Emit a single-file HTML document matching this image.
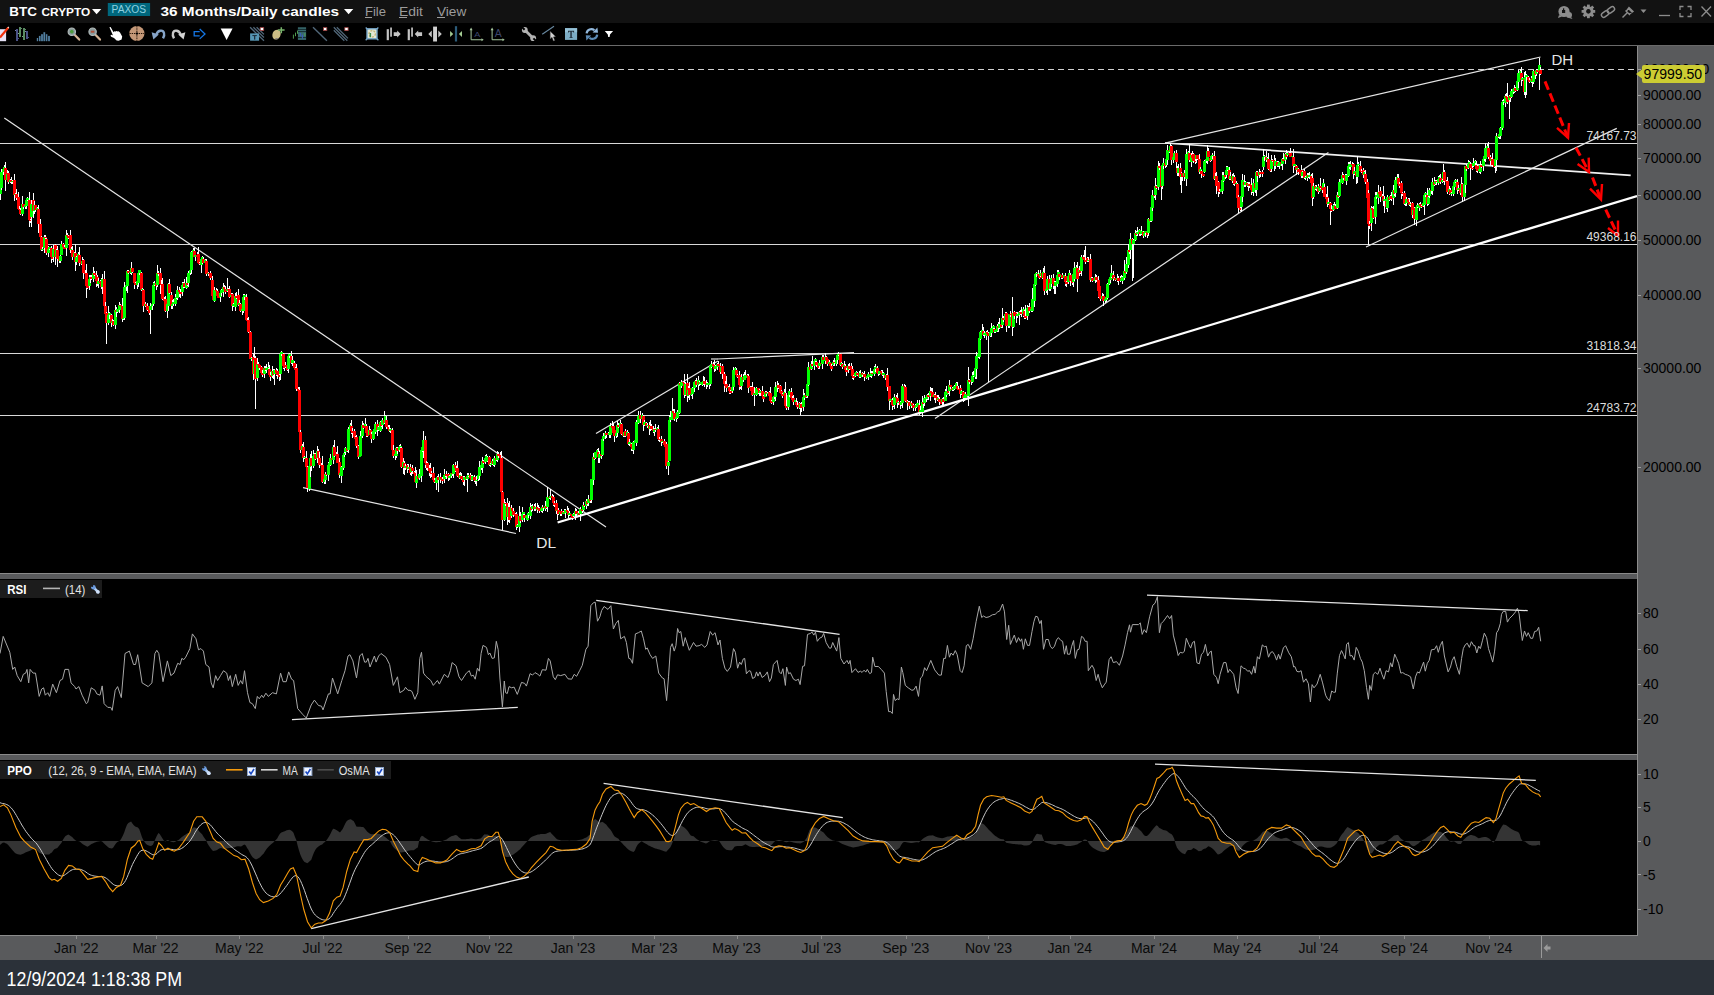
<!DOCTYPE html>
<html><head><meta charset="utf-8"><title>BTC CRYPTO</title>
<style>
html,body{margin:0;padding:0;background:#000;}
body{width:1714px;height:995px;position:relative;overflow:hidden;font-family:"Liberation Sans",sans-serif;}
.abs{position:absolute;}
#title{left:0;top:0;width:1714px;height:23px;background:#121212;}
#tool{left:0;top:23px;width:1714px;height:22px;background:#000;}
#tline{left:0;top:45px;width:1714px;height:1px;background:#6a6a6a;}
#raxis{left:1637px;top:46px;width:77px;height:914px;background:#595a5c;}
#rline{left:1637px;top:46px;width:1px;height:889px;background:#8c8c8c;}
#taxis{left:0;top:935px;width:1714px;height:25px;background:#595a5c;}
#taxl{left:0;top:935px;width:1638px;height:1px;background:#8c8c8c;}
#status{left:0;top:960px;width:1714px;height:35px;background:#2b3139;color:#fff;font-size:18px;}
.sep{left:0;width:1637px;height:6px;background:#595a5c;border-top:1px solid #8a8a8a;box-sizing:border-box;}
.pl{position:absolute;left:1643px;font-size:14px;color:#000;line-height:14px;white-space:nowrap;}
.tk{position:absolute;left:1638px;width:3px;height:1px;background:#a0a0a0;}
.tl{position:absolute;top:941px;font-size:14px;color:#0a0a0a;line-height:14px;white-space:nowrap;transform:translateX(-50%);}
.tt{position:absolute;top:936px;width:1px;height:3px;background:#8c8c8c;}
.ttl{position:absolute;white-space:nowrap;}
.w{stroke:#fff;stroke-width:1}.g{stroke:#0f0;stroke-width:3}.r{stroke:#f00;stroke-width:3}
</style></head><body>
<div class="abs" id="title"></div>
<div class="abs" id="tool"></div>
<div class="abs" id="tline"></div>
<div class="abs" id="raxis"></div>
<div class="abs" id="taxis"></div>
<div class="abs" id="status"><svg class="abs" style="left:0;top:0" width="300" height="35"><text x="6.6" y="26" font-family="Liberation Sans, sans-serif" font-size="20" fill="#fff" textLength="175.5" lengthAdjust="spacingAndGlyphs">12/9/2024 1:18:38 PM</text></svg></div>
<div class="abs sep" style="top:573px"></div>
<div class="abs sep" style="top:754px"></div>
<svg width="1714" height="995" viewBox="0 0 1714 995" style="position:absolute;left:0;top:0">
<defs><clipPath id="c1"><rect x="0" y="46" width="1637" height="527"/></clipPath><clipPath id="c2"><rect x="0" y="579" width="1637" height="174"/></clipPath><clipPath id="c3"><rect x="0" y="760" width="1637" height="175"/></clipPath></defs>
<g clip-path="url(#c1)">
<g stroke="#d8d8d8" stroke-width="1" shape-rendering="crispEdges">
<line x1="0" y1="143.5" x2="1637" y2="143.5"/>
<line x1="0" y1="244.5" x2="1637" y2="244.5"/>
<line x1="0" y1="353.5" x2="1637" y2="353.5"/>
<line x1="0" y1="415.5" x2="1637" y2="415.5"/>
</g>
<line x1="0" y1="69.5" x2="1637" y2="69.5" stroke="#cfcfcf" stroke-width="1" stroke-dasharray="6 4" stroke-dashoffset="1.7" shape-rendering="crispEdges"/>
<g stroke="#e4e4e4" stroke-width="1.2" fill="none">
<line x1="4.3" y1="117.9" x2="606" y2="527"/>
<line x1="303" y1="487.6" x2="516" y2="533.5"/>
<line x1="596" y1="433.6" x2="718" y2="361"/>
<line x1="711" y1="359" x2="717.5" y2="359"/>
<line x1="717" y1="359" x2="854" y2="352.6"/>
<line x1="935" y1="418.5" x2="1328.4" y2="152.6"/>
<line x1="1165" y1="143.2" x2="1540.5" y2="57"/>
<line x1="1366" y1="247" x2="1616.8" y2="128.4"/>
</g>
<line x1="1165" y1="143" x2="1630.7" y2="175.3" stroke="#f0f0f0" stroke-width="1.7"/>
<line x1="557.6" y1="522.5" x2="1637" y2="196" stroke="#ffffff" stroke-width="2.3"/>
<g shape-rendering="crispEdges" fill="none"><path class="w" d="M0.5 187V200"/><path class="g" d="M0.5 188V194"/><path class="w" d="M1.5 169V190"/><path class="g" d="M1.5 172V188"/><path class="w" d="M3.5 167V175"/><path class="g" d="M3.5 169V172"/><path class="w" d="M4.5 165V170"/><path class="g" d="M4.5 167V169"/><path class="w" d="M5.5 162V191"/><path class="r" d="M5.5 168V180"/><path class="w" d="M7.5 170V181"/><path class="g" d="M7.5 174V180"/><path class="w" d="M8.5 171V184"/><path class="r" d="M8.5 173V182"/><path class="w" d="M10.5 179V183"/><path class="g" d="M10.5 180V182"/><path class="w" d="M11.5 177V184"/><path class="r" d="M11.5 180V182"/><path class="w" d="M12.5 180V184"/><path class="g" d="M12.5 181V182"/><path class="w" d="M14.5 174V201"/><path class="r" d="M14.5 180V195"/><path class="w" d="M15.5 193V198"/><path class="g" d="M15.5 194V195"/><path class="w" d="M16.5 189V200"/><path class="r" d="M16.5 194V198"/><path class="w" d="M18.5 192V210"/><path class="r" d="M18.5 197V209"/><path class="w" d="M19.5 206V211"/><path class="r" d="M19.5 209V210"/><path class="w" d="M20.5 208V215"/><path class="r" d="M20.5 210V214"/><path class="w" d="M22.5 196V216"/><path class="g" d="M22.5 204V214"/><path class="w" d="M23.5 204V209"/><path class="r" d="M23.5 204V207"/><path class="w" d="M25.5 203V209"/><path class="g" d="M25.5 205V207"/><path class="w" d="M26.5 198V209"/><path class="g" d="M26.5 200V206"/><path class="w" d="M27.5 197V201"/><path class="g" d="M27.5 198V200"/><path class="w" d="M29.5 192V227"/><path class="r" d="M29.5 200V220"/><path class="w" d="M30.5 219V223"/><path class="r" d="M30.5 220V221"/><path class="w" d="M31.5 200V227"/><path class="g" d="M31.5 204V217"/><path class="w" d="M33.5 193V218"/><path class="r" d="M33.5 200V211"/><path class="w" d="M34.5 201V214"/><path class="g" d="M34.5 205V211"/><path class="w" d="M35.5 205V212"/><path class="r" d="M35.5 205V210"/><path class="w" d="M37.5 207V213"/><path class="g" d="M37.5 208V210"/><path class="w" d="M38.5 205V233"/><path class="r" d="M38.5 209V224"/><path class="w" d="M40.5 219V239"/><path class="r" d="M40.5 224V237"/><path class="w" d="M41.5 236V251"/><path class="r" d="M41.5 237V250"/><path class="w" d="M42.5 247V251"/><path class="g" d="M42.5 249V250"/><path class="w" d="M44.5 235V253"/><path class="g" d="M44.5 237V248"/><path class="w" d="M45.5 235V239"/><path class="r" d="M45.5 237V238"/><path class="w" d="M46.5 238V255"/><path class="r" d="M46.5 239V253"/><path class="w" d="M48.5 246V257"/><path class="g" d="M48.5 249V253"/><path class="w" d="M49.5 247V250"/><path class="g" d="M49.5 247V249"/><path class="w" d="M51.5 246V263"/><path class="r" d="M51.5 248V257"/><path class="w" d="M52.5 256V260"/><path class="r" d="M52.5 257V259"/><path class="w" d="M53.5 245V262"/><path class="g" d="M53.5 249V257"/><path class="w" d="M55.5 244V265"/><path class="r" d="M55.5 245V257"/><path class="w" d="M56.5 249V258"/><path class="g" d="M56.5 250V257"/><path class="w" d="M57.5 246V267"/><path class="r" d="M57.5 250V259"/><path class="w" d="M59.5 257V263"/><path class="r" d="M59.5 259V261"/><path class="w" d="M60.5 253V263"/><path class="g" d="M60.5 256V261"/><path class="w" d="M61.5 241V255"/><path class="g" d="M61.5 244V255"/><path class="w" d="M63.5 243V247"/><path class="r" d="M63.5 244V247"/><path class="w" d="M64.5 245V249"/><path class="r" d="M64.5 247V249"/><path class="w" d="M66.5 230V256"/><path class="g" d="M66.5 235V248"/><path class="w" d="M67.5 233V238"/><path class="r" d="M67.5 235V236"/><path class="w" d="M68.5 235V239"/><path class="r" d="M68.5 236V238"/><path class="w" d="M70.5 230V253"/><path class="r" d="M70.5 235V250"/><path class="w" d="M71.5 247V252"/><path class="g" d="M71.5 249V250"/><path class="w" d="M72.5 246V260"/><path class="r" d="M72.5 250V257"/><path class="w" d="M74.5 252V257"/><path class="g" d="M74.5 253V257"/><path class="w" d="M75.5 244V271"/><path class="r" d="M75.5 253V262"/><path class="w" d="M76.5 256V265"/><path class="g" d="M76.5 257V262"/><path class="w" d="M78.5 252V258"/><path class="g" d="M78.5 254V257"/><path class="w" d="M79.5 247V266"/><path class="r" d="M79.5 255V263"/><path class="w" d="M81.5 261V265"/><path class="r" d="M81.5 263V264"/><path class="w" d="M82.5 257V271"/><path class="g" d="M82.5 261V264"/><path class="w" d="M83.5 259V279"/><path class="r" d="M83.5 260V273"/><path class="w" d="M85.5 270V277"/><path class="r" d="M85.5 273V274"/><path class="w" d="M86.5 264V298"/><path class="r" d="M86.5 273V286"/><path class="w" d="M87.5 286V289"/><path class="r" d="M87.5 286V288"/><path class="w" d="M89.5 275V290"/><path class="g" d="M89.5 279V286"/><path class="w" d="M90.5 275V283"/><path class="g" d="M90.5 277V279"/><path class="w" d="M91.5 275V280"/><path class="r" d="M91.5 277V279"/><path class="w" d="M93.5 267V282"/><path class="g" d="M93.5 273V279"/><path class="w" d="M94.5 271V276"/><path class="r" d="M94.5 273V275"/><path class="w" d="M96.5 271V287"/><path class="r" d="M96.5 275V281"/><path class="w" d="M97.5 275V286"/><path class="r" d="M97.5 277V284"/><path class="w" d="M98.5 278V288"/><path class="g" d="M98.5 281V284"/><path class="w" d="M100.5 280V285"/><path class="r" d="M100.5 281V283"/><path class="w" d="M101.5 278V289"/><path class="r" d="M101.5 281V287"/><path class="w" d="M102.5 274V294"/><path class="g" d="M102.5 279V287"/><path class="w" d="M104.5 271V307"/><path class="r" d="M104.5 279V306"/><path class="w" d="M105.5 302V315"/><path class="r" d="M105.5 306V314"/><path class="w" d="M106.5 312V344"/><path class="r" d="M106.5 313V323"/><path class="w" d="M108.5 306V325"/><path class="g" d="M108.5 315V323"/><path class="w" d="M109.5 312V319"/><path class="g" d="M109.5 313V315"/><path class="w" d="M111.5 314V327"/><path class="r" d="M111.5 315V323"/><path class="w" d="M112.5 319V325"/><path class="g" d="M112.5 321V323"/><path class="w" d="M113.5 320V326"/><path class="r" d="M113.5 321V325"/><path class="w" d="M115.5 305V329"/><path class="g" d="M115.5 310V325"/><path class="w" d="M116.5 307V317"/><path class="r" d="M116.5 310V312"/><path class="w" d="M117.5 309V313"/><path class="g" d="M117.5 309V312"/><path class="w" d="M119.5 302V313"/><path class="g" d="M119.5 305V310"/><path class="w" d="M120.5 304V306"/><path class="r" d="M120.5 305V306"/><path class="w" d="M122.5 298V322"/><path class="r" d="M122.5 306V319"/><path class="w" d="M123.5 318V320"/><path class="g" d="M123.5 318V319"/><path class="w" d="M124.5 282V320"/><path class="g" d="M124.5 287V318"/><path class="w" d="M126.5 283V291"/><path class="g" d="M126.5 285V287"/><path class="w" d="M127.5 270V293"/><path class="g" d="M127.5 271V286"/><path class="w" d="M128.5 270V274"/><path class="r" d="M128.5 271V273"/><path class="w" d="M130.5 272V274"/><path class="g" d="M130.5 272V273"/><path class="w" d="M131.5 262V275"/><path class="g" d="M131.5 268V273"/><path class="w" d="M132.5 268V273"/><path class="r" d="M132.5 268V272"/><path class="w" d="M134.5 273V289"/><path class="r" d="M134.5 273V283"/><path class="w" d="M135.5 282V285"/><path class="r" d="M135.5 283V285"/><path class="w" d="M137.5 280V289"/><path class="g" d="M137.5 281V285"/><path class="w" d="M138.5 272V287"/><path class="g" d="M138.5 273V283"/><path class="w" d="M139.5 270V275"/><path class="g" d="M139.5 270V273"/><path class="w" d="M141.5 272V291"/><path class="r" d="M141.5 273V290"/><path class="w" d="M142.5 288V294"/><path class="g" d="M142.5 289V290"/><path class="w" d="M143.5 289V312"/><path class="r" d="M143.5 290V306"/><path class="w" d="M145.5 302V307"/><path class="g" d="M145.5 304V306"/><path class="w" d="M146.5 304V310"/><path class="r" d="M146.5 304V306"/><path class="w" d="M147.5 303V311"/><path class="r" d="M147.5 306V310"/><path class="w" d="M149.5 308V315"/><path class="r" d="M149.5 310V313"/><path class="w" d="M150.5 303V334"/><path class="g" d="M150.5 306V310"/><path class="w" d="M152.5 303V310"/><path class="g" d="M152.5 304V306"/><path class="w" d="M153.5 282V306"/><path class="g" d="M153.5 285V304"/><path class="w" d="M154.5 281V286"/><path class="g" d="M154.5 283V285"/><path class="w" d="M156.5 282V290"/><path class="r" d="M156.5 283V286"/><path class="w" d="M157.5 265V287"/><path class="g" d="M157.5 273V285"/><path class="w" d="M158.5 271V276"/><path class="r" d="M158.5 273V274"/><path class="w" d="M160.5 268V294"/><path class="r" d="M160.5 273V284"/><path class="w" d="M161.5 280V288"/><path class="r" d="M161.5 284V285"/><path class="w" d="M162.5 278V300"/><path class="r" d="M162.5 284V299"/><path class="w" d="M164.5 297V304"/><path class="r" d="M164.5 299V301"/><path class="w" d="M165.5 296V312"/><path class="r" d="M165.5 299V311"/><path class="w" d="M167.5 300V318"/><path class="g" d="M167.5 304V311"/><path class="w" d="M168.5 283V311"/><path class="g" d="M168.5 284V306"/><path class="w" d="M169.5 279V294"/><path class="r" d="M169.5 284V293"/><path class="w" d="M171.5 292V309"/><path class="r" d="M171.5 295V306"/><path class="w" d="M172.5 300V309"/><path class="g" d="M172.5 304V306"/><path class="w" d="M173.5 299V306"/><path class="g" d="M173.5 302V304"/><path class="w" d="M175.5 294V306"/><path class="g" d="M175.5 298V304"/><path class="w" d="M176.5 296V299"/><path class="g" d="M176.5 297V298"/><path class="w" d="M177.5 286V300"/><path class="g" d="M177.5 290V298"/><path class="w" d="M179.5 287V297"/><path class="r" d="M179.5 290V292"/><path class="w" d="M180.5 289V298"/><path class="r" d="M180.5 292V294"/><path class="w" d="M182.5 282V296"/><path class="g" d="M182.5 285V292"/><path class="w" d="M183.5 282V288"/><path class="g" d="M183.5 283V285"/><path class="w" d="M184.5 279V288"/><path class="r" d="M184.5 283V287"/><path class="w" d="M186.5 277V289"/><path class="g" d="M186.5 283V288"/><path class="w" d="M187.5 280V286"/><path class="r" d="M187.5 283V285"/><path class="w" d="M188.5 271V287"/><path class="g" d="M188.5 273V283"/><path class="w" d="M190.5 269V275"/><path class="g" d="M190.5 270V273"/><path class="w" d="M191.5 251V274"/><path class="g" d="M191.5 252V270"/><path class="w" d="M193.5 248V255"/><path class="g" d="M193.5 250V252"/><path class="w" d="M194.5 248V257"/><path class="r" d="M194.5 251V257"/><path class="w" d="M195.5 255V261"/><path class="g" d="M195.5 255V257"/><path class="w" d="M197.5 252V259"/><path class="r" d="M197.5 255V257"/><path class="w" d="M198.5 247V264"/><path class="r" d="M198.5 254V263"/><path class="w" d="M199.5 262V265"/><path class="r" d="M199.5 263V264"/><path class="w" d="M201.5 258V273"/><path class="g" d="M201.5 259V265"/><path class="w" d="M202.5 256V264"/><path class="g" d="M202.5 257V259"/><path class="w" d="M203.5 257V263"/><path class="r" d="M203.5 259V263"/><path class="w" d="M205.5 259V265"/><path class="g" d="M205.5 260V263"/><path class="w" d="M206.5 259V276"/><path class="r" d="M206.5 261V274"/><path class="w" d="M208.5 272V276"/><path class="g" d="M208.5 273V274"/><path class="w" d="M209.5 273V275"/><path class="r" d="M209.5 273V274"/><path class="w" d="M210.5 271V280"/><path class="r" d="M210.5 273V278"/><path class="w" d="M212.5 276V299"/><path class="r" d="M212.5 280V296"/><path class="w" d="M213.5 291V301"/><path class="r" d="M213.5 296V300"/><path class="w" d="M214.5 287V302"/><path class="g" d="M214.5 290V301"/><path class="w" d="M216.5 288V291"/><path class="r" d="M216.5 290V291"/><path class="w" d="M217.5 289V297"/><path class="r" d="M217.5 291V296"/><path class="r" d="M218.5 296V298"/><path class="w" d="M220.5 292V302"/><path class="g" d="M220.5 293V297"/><path class="w" d="M221.5 289V296"/><path class="g" d="M221.5 290V293"/><path class="w" d="M223.5 283V297"/><path class="g" d="M223.5 287V292"/><path class="w" d="M224.5 285V292"/><path class="r" d="M224.5 287V289"/><path class="w" d="M225.5 286V294"/><path class="r" d="M225.5 289V292"/><path class="w" d="M227.5 278V292"/><path class="g" d="M227.5 289V291"/><path class="w" d="M228.5 288V291"/><path class="r" d="M228.5 289V290"/><path class="w" d="M229.5 286V298"/><path class="r" d="M229.5 289V297"/><path class="w" d="M231.5 293V301"/><path class="g" d="M231.5 295V297"/><path class="w" d="M232.5 293V311"/><path class="r" d="M232.5 294V306"/><path class="w" d="M233.5 303V307"/><path class="g" d="M233.5 304V306"/><path class="w" d="M235.5 293V311"/><path class="g" d="M235.5 296V307"/><path class="w" d="M236.5 292V299"/><path class="r" d="M236.5 296V298"/><path class="w" d="M238.5 289V306"/><path class="r" d="M238.5 295V305"/><path class="w" d="M239.5 300V308"/><path class="g" d="M239.5 303V305"/><path class="w" d="M240.5 303V312"/><path class="r" d="M240.5 304V311"/><path class="w" d="M242.5 307V315"/><path class="g" d="M242.5 309V311"/><path class="w" d="M243.5 294V313"/><path class="g" d="M243.5 297V311"/><path class="w" d="M244.5 294V300"/><path class="g" d="M244.5 295V297"/><path class="w" d="M246.5 294V321"/><path class="r" d="M246.5 297V320"/><path class="w" d="M247.5 318V324"/><path class="r" d="M247.5 320V321"/><path class="w" d="M248.5 317V333"/><path class="r" d="M248.5 320V332"/><path class="w" d="M250.5 331V359"/><path class="r" d="M250.5 332V359"/><path class="w" d="M251.5 357V361"/><path class="g" d="M251.5 358V359"/><path class="w" d="M253.5 353V380"/><path class="r" d="M253.5 357V374"/><path class="w" d="M254.5 347V378"/><path class="g" d="M254.5 360V374"/><path class="w" d="M255.5 356V409"/><path class="r" d="M255.5 358V379"/><path class="w" d="M257.5 358V381"/><path class="g" d="M257.5 364V378"/><path class="w" d="M258.5 362V367"/><path class="r" d="M258.5 364V365"/><path class="w" d="M259.5 365V370"/><path class="r" d="M259.5 365V368"/><path class="w" d="M261.5 366V374"/><path class="r" d="M261.5 367V373"/><path class="w" d="M262.5 370V377"/><path class="r" d="M262.5 373V375"/><path class="w" d="M264.5 366V378"/><path class="g" d="M264.5 368V374"/><path class="w" d="M265.5 366V371"/><path class="r" d="M265.5 368V370"/><path class="w" d="M266.5 364V373"/><path class="g" d="M266.5 368V370"/><path class="w" d="M268.5 362V369"/><path class="g" d="M268.5 367V368"/><path class="w" d="M269.5 365V376"/><path class="r" d="M269.5 369V375"/><path class="w" d="M270.5 372V381"/><path class="r" d="M270.5 375V377"/><path class="w" d="M272.5 366V378"/><path class="g" d="M272.5 371V376"/><path class="w" d="M273.5 369V379"/><path class="r" d="M273.5 371V375"/><path class="w" d="M274.5 369V385"/><path class="g" d="M274.5 370V374"/><path class="w" d="M276.5 368V376"/><path class="r" d="M276.5 370V373"/><path class="w" d="M277.5 369V379"/><path class="r" d="M277.5 371V375"/><path class="w" d="M279.5 369V381"/><path class="r" d="M279.5 375V377"/><path class="w" d="M280.5 353V380"/><path class="g" d="M280.5 354V374"/><path class="w" d="M281.5 351V356"/><path class="g" d="M281.5 352V354"/><path class="w" d="M283.5 353V369"/><path class="r" d="M283.5 354V366"/><path class="w" d="M284.5 365V371"/><path class="r" d="M284.5 366V368"/><path class="w" d="M285.5 362V368"/><path class="r" d="M285.5 365V367"/><path class="w" d="M287.5 363V371"/><path class="r" d="M287.5 367V370"/><path class="w" d="M288.5 355V373"/><path class="g" d="M288.5 356V369"/><path class="w" d="M289.5 353V358"/><path class="g" d="M289.5 354V356"/><path class="w" d="M291.5 351V364"/><path class="r" d="M291.5 356V363"/><path class="w" d="M292.5 356V366"/><path class="g" d="M292.5 360V363"/><path class="w" d="M294.5 361V370"/><path class="r" d="M294.5 363V368"/><path class="w" d="M295.5 367V371"/><path class="r" d="M295.5 368V370"/><path class="w" d="M296.5 364V391"/><path class="r" d="M296.5 368V389"/><path class="w" d="M298.5 387V392"/><path class="r" d="M298.5 389V391"/><path class="w" d="M299.5 387V437"/><path class="r" d="M299.5 390V432"/><path class="w" d="M300.5 430V453"/><path class="r" d="M300.5 432V450"/><path class="w" d="M302.5 444V451"/><path class="g" d="M302.5 446V450"/><path class="w" d="M303.5 442V462"/><path class="r" d="M303.5 447V458"/><path class="w" d="M304.5 456V459"/><path class="g" d="M304.5 457V458"/><path class="w" d="M306.5 451V469"/><path class="r" d="M306.5 458V467"/><path class="w" d="M307.5 466V492"/><path class="r" d="M307.5 467V488"/><path class="w" d="M309.5 460V491"/><path class="g" d="M309.5 466V489"/><path class="w" d="M310.5 454V477"/><path class="g" d="M310.5 458V467"/><path class="w" d="M311.5 451V471"/><path class="r" d="M311.5 458V466"/><path class="w" d="M313.5 450V468"/><path class="g" d="M313.5 456V466"/><path class="w" d="M314.5 453V458"/><path class="g" d="M314.5 454V456"/><path class="w" d="M315.5 453V460"/><path class="r" d="M315.5 454V459"/><path class="w" d="M317.5 446V463"/><path class="g" d="M317.5 451V458"/><path class="w" d="M318.5 449V459"/><path class="r" d="M318.5 451V458"/><path class="w" d="M319.5 452V468"/><path class="r" d="M319.5 458V465"/><path class="w" d="M321.5 463V467"/><path class="r" d="M321.5 465V466"/><path class="w" d="M322.5 456V483"/><path class="r" d="M322.5 465V482"/><path class="w" d="M324.5 478V484"/><path class="g" d="M324.5 479V482"/><path class="w" d="M325.5 472V484"/><path class="g" d="M325.5 474V480"/><path class="w" d="M326.5 474V476"/><path class="r" d="M326.5 474V475"/><path class="w" d="M328.5 462V481"/><path class="g" d="M328.5 465V475"/><path class="w" d="M329.5 461V465"/><path class="g" d="M329.5 463V465"/><path class="w" d="M330.5 454V466"/><path class="g" d="M330.5 458V465"/><path class="w" d="M332.5 455V460"/><path class="r" d="M332.5 458V460"/><path class="w" d="M333.5 445V464"/><path class="g" d="M333.5 447V460"/><path class="w" d="M334.5 440V457"/><path class="r" d="M334.5 447V456"/><path class="w" d="M336.5 452V457"/><path class="g" d="M336.5 455V456"/><path class="w" d="M337.5 446V463"/><path class="r" d="M337.5 454V463"/><path class="w" d="M339.5 458V478"/><path class="r" d="M339.5 462V475"/><path class="w" d="M340.5 473V476"/><path class="g" d="M340.5 473V475"/><path class="w" d="M341.5 466V483"/><path class="g" d="M341.5 467V476"/><path class="w" d="M343.5 453V470"/><path class="g" d="M343.5 455V468"/><path class="w" d="M344.5 452V457"/><path class="g" d="M344.5 453V455"/><path class="w" d="M345.5 447V455"/><path class="g" d="M345.5 448V452"/><path class="w" d="M347.5 446V452"/><path class="r" d="M347.5 448V451"/><path class="w" d="M348.5 427V453"/><path class="g" d="M348.5 429V450"/><path class="w" d="M350.5 423V430"/><path class="g" d="M350.5 425V429"/><path class="w" d="M351.5 420V434"/><path class="r" d="M351.5 426V431"/><path class="w" d="M352.5 428V438"/><path class="r" d="M352.5 431V433"/><path class="w" d="M354.5 429V439"/><path class="r" d="M354.5 431V437"/><path class="w" d="M355.5 436V441"/><path class="r" d="M355.5 437V439"/><path class="w" d="M356.5 435V448"/><path class="r" d="M356.5 437V446"/><path class="w" d="M358.5 445V459"/><path class="r" d="M358.5 446V457"/><path class="w" d="M359.5 455V457"/><path class="g" d="M359.5 456V457"/><path class="w" d="M360.5 431V456"/><path class="g" d="M360.5 436V456"/><path class="w" d="M362.5 421V438"/><path class="g" d="M362.5 425V436"/><path class="w" d="M363.5 423V429"/><path class="r" d="M363.5 425V428"/><path class="w" d="M365.5 418V427"/><path class="g" d="M365.5 424V426"/><path class="w" d="M366.5 424V437"/><path class="r" d="M366.5 426V433"/><path class="w" d="M367.5 433V437"/><path class="r" d="M367.5 433V436"/><path class="w" d="M369.5 426V435"/><path class="g" d="M369.5 430V435"/><path class="w" d="M370.5 429V436"/><path class="r" d="M370.5 430V435"/><path class="w" d="M371.5 432V443"/><path class="r" d="M371.5 434V439"/><path class="w" d="M373.5 430V440"/><path class="g" d="M373.5 431V439"/><path class="w" d="M374.5 426V432"/><path class="g" d="M374.5 429V431"/><path class="w" d="M375.5 422V434"/><path class="g" d="M375.5 424V432"/><path class="w" d="M377.5 420V436"/><path class="r" d="M377.5 424V430"/><path class="w" d="M378.5 426V431"/><path class="g" d="M378.5 427V430"/><path class="w" d="M380.5 421V432"/><path class="g" d="M380.5 422V431"/><path class="w" d="M381.5 421V427"/><path class="r" d="M381.5 422V426"/><path class="w" d="M382.5 418V429"/><path class="g" d="M382.5 420V425"/><path class="w" d="M384.5 411V424"/><path class="r" d="M384.5 420V423"/><path class="w" d="M385.5 415V423"/><path class="g" d="M385.5 416V423"/><path class="w" d="M386.5 416V429"/><path class="r" d="M386.5 420V427"/><path class="w" d="M388.5 425V430"/><path class="r" d="M388.5 427V429"/><path class="w" d="M389.5 425V432"/><path class="r" d="M389.5 429V431"/><path class="w" d="M390.5 428V433"/><path class="g" d="M390.5 429V431"/><path class="w" d="M392.5 428V454"/><path class="r" d="M392.5 430V450"/><path class="w" d="M393.5 445V458"/><path class="r" d="M393.5 450V456"/><path class="w" d="M395.5 449V460"/><path class="g" d="M395.5 454V456"/><path class="w" d="M396.5 447V458"/><path class="g" d="M396.5 448V456"/><path class="w" d="M397.5 447V454"/><path class="r" d="M397.5 448V451"/><path class="w" d="M399.5 445V452"/><path class="g" d="M399.5 447V450"/><path class="w" d="M400.5 444V449"/><path class="g" d="M400.5 446V447"/><path class="w" d="M401.5 447V468"/><path class="r" d="M401.5 448V467"/><path class="w" d="M403.5 458V474"/><path class="g" d="M403.5 462V467"/><path class="w" d="M404.5 461V475"/><path class="r" d="M404.5 463V468"/><path class="w" d="M405.5 464V470"/><path class="g" d="M405.5 466V468"/><path class="w" d="M407.5 464V473"/><path class="r" d="M407.5 465V469"/><path class="w" d="M408.5 464V470"/><path class="g" d="M408.5 467V469"/><path class="w" d="M410.5 464V475"/><path class="r" d="M410.5 467V473"/><path class="w" d="M411.5 468V476"/><path class="g" d="M411.5 468V472"/><path class="w" d="M412.5 465V474"/><path class="r" d="M412.5 468V471"/><path class="w" d="M414.5 471V477"/><path class="r" d="M414.5 472V474"/><path class="w" d="M415.5 467V482"/><path class="r" d="M415.5 473V482"/><path class="w" d="M416.5 470V488"/><path class="g" d="M416.5 476V483"/><path class="w" d="M418.5 475V479"/><path class="r" d="M418.5 476V479"/><path class="w" d="M419.5 469V480"/><path class="g" d="M419.5 474V478"/><path class="w" d="M421.5 447V482"/><path class="g" d="M421.5 450V476"/><path class="w" d="M422.5 445V452"/><path class="g" d="M422.5 447V450"/><path class="w" d="M423.5 431V458"/><path class="g" d="M423.5 440V451"/><path class="w" d="M425.5 436V468"/><path class="r" d="M425.5 440V463"/><path class="w" d="M426.5 461V470"/><path class="r" d="M426.5 463V465"/><path class="w" d="M427.5 462V471"/><path class="r" d="M427.5 463V468"/><path class="w" d="M429.5 465V476"/><path class="r" d="M429.5 468V471"/><path class="w" d="M430.5 463V478"/><path class="r" d="M430.5 468V473"/><path class="w" d="M431.5 471V477"/><path class="r" d="M431.5 473V474"/><path class="w" d="M433.5 467V481"/><path class="r" d="M433.5 473V480"/><path class="w" d="M434.5 478V483"/><path class="r" d="M434.5 480V482"/><path class="w" d="M436.5 478V490"/><path class="g" d="M436.5 478V483"/><path class="w" d="M437.5 476V480"/><path class="g" d="M437.5 477V478"/><path class="w" d="M438.5 474V492"/><path class="r" d="M438.5 477V480"/><path class="w" d="M440.5 473V483"/><path class="g" d="M440.5 477V480"/><path class="w" d="M441.5 477V480"/><path class="r" d="M441.5 477V479"/><path class="w" d="M442.5 477V484"/><path class="r" d="M442.5 479V481"/><path class="w" d="M444.5 469V483"/><path class="g" d="M444.5 475V479"/><path class="w" d="M445.5 474V477"/><path class="g" d="M445.5 474V475"/><path class="w" d="M446.5 471V479"/><path class="r" d="M446.5 474V476"/><path class="w" d="M448.5 473V481"/><path class="r" d="M448.5 474V478"/><path class="w" d="M449.5 475V480"/><path class="g" d="M449.5 476V478"/><path class="w" d="M451.5 473V478"/><path class="g" d="M451.5 473V476"/><path class="w" d="M452.5 470V476"/><path class="r" d="M452.5 473V474"/><path class="w" d="M453.5 464V478"/><path class="g" d="M453.5 465V474"/><path class="w" d="M455.5 462V472"/><path class="r" d="M455.5 465V468"/><path class="w" d="M456.5 466V471"/><path class="r" d="M456.5 468V471"/><path class="w" d="M457.5 461V477"/><path class="r" d="M457.5 468V476"/><path class="w" d="M459.5 473V479"/><path class="r" d="M459.5 476V478"/><path class="w" d="M460.5 472V478"/><path class="g" d="M460.5 475V478"/><path class="w" d="M461.5 473V480"/><path class="r" d="M461.5 476V479"/><path class="w" d="M463.5 476V485"/><path class="r" d="M463.5 479V482"/><path class="w" d="M464.5 476V486"/><path class="g" d="M464.5 477V480"/><path class="w" d="M466.5 476V480"/><path class="r" d="M466.5 477V479"/><path class="w" d="M467.5 473V492"/><path class="g" d="M467.5 476V479"/><path class="w" d="M468.5 473V477"/><path class="g" d="M468.5 475V476"/><path class="w" d="M470.5 473V478"/><path class="r" d="M470.5 475V478"/><path class="w" d="M471.5 475V481"/><path class="r" d="M471.5 478V480"/><path class="w" d="M472.5 475V481"/><path class="g" d="M472.5 476V480"/><path class="w" d="M474.5 475V482"/><path class="r" d="M474.5 477V480"/><path class="w" d="M475.5 480V484"/><path class="r" d="M475.5 480V481"/><path class="w" d="M476.5 476V486"/><path class="g" d="M476.5 480V481"/><path class="w" d="M478.5 474V481"/><path class="g" d="M478.5 475V479"/><path class="w" d="M479.5 461V480"/><path class="g" d="M479.5 467V476"/><path class="w" d="M481.5 464V470"/><path class="g" d="M481.5 465V467"/><path class="w" d="M482.5 457V473"/><path class="g" d="M482.5 461V468"/><path class="w" d="M483.5 460V464"/><path class="r" d="M483.5 461V463"/><path class="w" d="M485.5 455V464"/><path class="g" d="M485.5 458V462"/><path class="w" d="M486.5 454V460"/><path class="g" d="M486.5 456V458"/><path class="w" d="M487.5 456V462"/><path class="g" d="M487.5 457V461"/><path class="w" d="M489.5 456V466"/><path class="r" d="M489.5 457V465"/><path class="w" d="M490.5 463V467"/><path class="g" d="M490.5 464V465"/><path class="w" d="M492.5 459V465"/><path class="g" d="M492.5 461V464"/><path class="w" d="M493.5 459V466"/><path class="r" d="M493.5 461V464"/><path class="w" d="M494.5 456V467"/><path class="g" d="M494.5 458V465"/><path class="w" d="M496.5 456V461"/><path class="r" d="M496.5 458V460"/><path class="w" d="M497.5 451V462"/><path class="g" d="M497.5 454V460"/><path class="w" d="M498.5 452V458"/><path class="r" d="M498.5 454V456"/><path class="w" d="M500.5 452V461"/><path class="r" d="M500.5 455V458"/><path class="w" d="M501.5 451V504"/><path class="r" d="M501.5 458V492"/><path class="w" d="M502.5 491V530"/><path class="r" d="M502.5 492V520"/><path class="w" d="M504.5 499V521"/><path class="g" d="M504.5 503V520"/><path class="w" d="M505.5 502V506"/><path class="r" d="M505.5 503V504"/><path class="w" d="M507.5 498V525"/><path class="r" d="M507.5 503V517"/><path class="w" d="M508.5 503V522"/><path class="g" d="M508.5 507V517"/><path class="w" d="M509.5 501V523"/><path class="r" d="M509.5 507V520"/><path class="w" d="M511.5 505V518"/><path class="g" d="M511.5 508V516"/><path class="w" d="M512.5 508V512"/><path class="r" d="M512.5 508V511"/><path class="w" d="M513.5 508V517"/><path class="r" d="M513.5 511V515"/><path class="w" d="M515.5 513V519"/><path class="r" d="M515.5 515V516"/><path class="w" d="M516.5 512V530"/><path class="r" d="M516.5 514V527"/><path class="w" d="M517.5 524V528"/><path class="g" d="M517.5 525V527"/><path class="w" d="M519.5 506V532"/><path class="g" d="M519.5 516V527"/><path class="w" d="M520.5 512V523"/><path class="r" d="M520.5 516V521"/><path class="w" d="M522.5 507V522"/><path class="g" d="M522.5 514V520"/><path class="w" d="M523.5 512V517"/><path class="g" d="M523.5 512V514"/><path class="w" d="M524.5 514V522"/><path class="r" d="M524.5 515V518"/><path class="w" d="M526.5 515V518"/><path class="g" d="M526.5 516V518"/><path class="w" d="M527.5 515V521"/><path class="g" d="M527.5 515V520"/><path class="w" d="M528.5 512V518"/><path class="g" d="M528.5 513V515"/><path class="w" d="M530.5 503V519"/><path class="g" d="M530.5 507V516"/><path class="w" d="M531.5 505V512"/><path class="r" d="M531.5 507V510"/><path class="w" d="M532.5 504V511"/><path class="g" d="M532.5 506V509"/><path class="w" d="M534.5 504V511"/><path class="r" d="M534.5 506V509"/><path class="w" d="M535.5 503V511"/><path class="g" d="M535.5 507V509"/><path class="w" d="M537.5 503V513"/><path class="r" d="M537.5 507V510"/><path class="w" d="M538.5 505V511"/><path class="g" d="M538.5 509V510"/><path class="w" d="M539.5 507V513"/><path class="r" d="M539.5 508V511"/><path class="w" d="M541.5 508V512"/><path class="g" d="M541.5 509V511"/><path class="w" d="M542.5 505V513"/><path class="g" d="M542.5 507V511"/><path class="w" d="M543.5 507V511"/><path class="r" d="M543.5 507V508"/><path class="w" d="M545.5 501V511"/><path class="g" d="M545.5 506V509"/><path class="w" d="M546.5 505V509"/><path class="r" d="M546.5 506V508"/><path class="w" d="M547.5 487V512"/><path class="g" d="M547.5 497V507"/><path class="w" d="M549.5 496V499"/><path class="r" d="M549.5 497V498"/><path class="w" d="M550.5 489V500"/><path class="g" d="M550.5 496V498"/><path class="w" d="M552.5 494V501"/><path class="r" d="M552.5 496V498"/><path class="w" d="M553.5 495V506"/><path class="r" d="M553.5 497V503"/><path class="w" d="M554.5 501V507"/><path class="r" d="M554.5 503V505"/><path class="w" d="M556.5 500V514"/><path class="r" d="M556.5 503V511"/><path class="w" d="M557.5 510V520"/><path class="g" d="M557.5 510V511"/><path class="w" d="M558.5 508V515"/><path class="r" d="M558.5 510V514"/><path class="w" d="M560.5 511V516"/><path class="g" d="M560.5 512V514"/><path class="w" d="M561.5 509V516"/><path class="r" d="M561.5 511V514"/><path class="w" d="M563.5 511V514"/><path class="g" d="M563.5 512V514"/><path class="w" d="M564.5 509V513"/><path class="r" d="M564.5 512V513"/><path class="w" d="M565.5 509V518"/><path class="g" d="M565.5 510V513"/><path class="w" d="M567.5 506V514"/><path class="r" d="M567.5 510V512"/><path class="w" d="M568.5 508V518"/><path class="r" d="M568.5 511V515"/><path class="w" d="M569.5 511V516"/><path class="g" d="M569.5 513V515"/><path class="w" d="M571.5 514V518"/><path class="r" d="M571.5 514V516"/><path class="w" d="M572.5 516V520"/><path class="r" d="M572.5 516V518"/><path class="w" d="M573.5 513V517"/><path class="g" d="M573.5 514V516"/><path class="w" d="M575.5 508V520"/><path class="g" d="M575.5 511V514"/><path class="w" d="M576.5 509V517"/><path class="r" d="M576.5 511V514"/><path class="w" d="M578.5 511V516"/><path class="g" d="M578.5 513V515"/><path class="w" d="M579.5 511V515"/><path class="r" d="M579.5 513V515"/><path class="w" d="M580.5 507V521"/><path class="g" d="M580.5 509V514"/><path class="w" d="M582.5 508V513"/><path class="r" d="M582.5 509V511"/><path class="w" d="M583.5 502V511"/><path class="g" d="M583.5 505V510"/><path class="w" d="M584.5 505V507"/><path class="r" d="M584.5 505V506"/><path class="w" d="M586.5 499V509"/><path class="g" d="M586.5 501V506"/><path class="w" d="M587.5 501V506"/><path class="r" d="M587.5 501V504"/><path class="w" d="M588.5 495V506"/><path class="g" d="M588.5 499V503"/><path class="w" d="M590.5 496V503"/><path class="r" d="M590.5 499V501"/><path class="w" d="M591.5 479V503"/><path class="g" d="M591.5 479V500"/><path class="w" d="M593.5 453V485"/><path class="g" d="M593.5 457V480"/><path class="w" d="M594.5 456V460"/><path class="r" d="M594.5 457V459"/><path class="w" d="M595.5 452V459"/><path class="g" d="M595.5 452V458"/><path class="w" d="M597.5 449V454"/><path class="g" d="M597.5 450V452"/><path class="w" d="M598.5 448V463"/><path class="r" d="M598.5 452V457"/><path class="w" d="M599.5 451V463"/><path class="g" d="M599.5 454V458"/><path class="w" d="M601.5 453V459"/><path class="r" d="M601.5 454V456"/><path class="w" d="M602.5 437V456"/><path class="g" d="M602.5 439V455"/><path class="w" d="M603.5 433V441"/><path class="g" d="M603.5 436V439"/><path class="w" d="M605.5 431V439"/><path class="g" d="M605.5 433V436"/><path class="w" d="M606.5 433V438"/><path class="r" d="M606.5 433V435"/><path class="w" d="M608.5 432V435"/><path class="r" d="M608.5 433V435"/><path class="w" d="M609.5 432V438"/><path class="g" d="M609.5 433V435"/><path class="w" d="M610.5 423V438"/><path class="g" d="M610.5 426V435"/><path class="w" d="M612.5 421V430"/><path class="r" d="M612.5 426V428"/><path class="w" d="M613.5 423V435"/><path class="r" d="M613.5 426V433"/><path class="w" d="M614.5 430V442"/><path class="r" d="M614.5 430V436"/><path class="w" d="M616.5 429V438"/><path class="g" d="M616.5 433V436"/><path class="w" d="M617.5 421V437"/><path class="g" d="M617.5 425V433"/><path class="w" d="M618.5 423V428"/><path class="r" d="M618.5 425V427"/><path class="w" d="M620.5 420V430"/><path class="g" d="M620.5 423V427"/><path class="w" d="M621.5 423V435"/><path class="r" d="M621.5 424V434"/><path class="w" d="M623.5 433V437"/><path class="r" d="M623.5 434V436"/><path class="w" d="M624.5 432V437"/><path class="g" d="M624.5 432V436"/><path class="w" d="M625.5 429V437"/><path class="r" d="M625.5 431V436"/><path class="w" d="M627.5 430V439"/><path class="g" d="M627.5 432V436"/><path class="w" d="M628.5 432V445"/><path class="r" d="M628.5 433V444"/><path class="w" d="M629.5 439V446"/><path class="g" d="M629.5 442V444"/><path class="w" d="M631.5 443V451"/><path class="r" d="M631.5 444V447"/><path class="w" d="M632.5 445V451"/><path class="r" d="M632.5 447V449"/><path class="w" d="M633.5 441V454"/><path class="g" d="M633.5 442V450"/><path class="w" d="M635.5 439V443"/><path class="g" d="M635.5 440V442"/><path class="w" d="M636.5 420V446"/><path class="g" d="M636.5 422V443"/><path class="w" d="M638.5 411V424"/><path class="g" d="M638.5 416V423"/><path class="w" d="M639.5 415V417"/><path class="g" d="M639.5 415V416"/><path class="w" d="M640.5 411V423"/><path class="r" d="M640.5 415V419"/><path class="w" d="M642.5 413V420"/><path class="g" d="M642.5 415V419"/><path class="w" d="M643.5 415V431"/><path class="r" d="M643.5 416V425"/><path class="w" d="M644.5 420V426"/><path class="g" d="M644.5 422V425"/><path class="w" d="M646.5 422V426"/><path class="r" d="M646.5 423V426"/><path class="w" d="M647.5 423V428"/><path class="g" d="M647.5 425V426"/><path class="w" d="M649.5 422V435"/><path class="r" d="M649.5 425V429"/><path class="w" d="M650.5 420V431"/><path class="g" d="M650.5 426V429"/><path class="w" d="M651.5 424V430"/><path class="r" d="M651.5 426V429"/><path class="w" d="M653.5 426V433"/><path class="r" d="M653.5 429V431"/><path class="w" d="M654.5 428V436"/><path class="g" d="M654.5 429V432"/><path class="w" d="M655.5 424V432"/><path class="r" d="M655.5 429V430"/><path class="w" d="M657.5 427V432"/><path class="g" d="M657.5 428V430"/><path class="w" d="M658.5 425V441"/><path class="r" d="M658.5 429V439"/><path class="w" d="M659.5 437V442"/><path class="r" d="M659.5 439V440"/><path class="w" d="M661.5 436V446"/><path class="r" d="M661.5 439V442"/><path class="w" d="M662.5 441V443"/><path class="g" d="M662.5 441V442"/><path class="w" d="M664.5 439V446"/><path class="r" d="M664.5 441V445"/><path class="w" d="M665.5 444V448"/><path class="r" d="M665.5 445V447"/><path class="w" d="M666.5 442V469"/><path class="r" d="M666.5 444V466"/><path class="w" d="M668.5 444V475"/><path class="g" d="M668.5 462V466"/><path class="w" d="M669.5 415V461"/><path class="g" d="M669.5 420V461"/><path class="w" d="M670.5 411V422"/><path class="g" d="M670.5 417V420"/><path class="w" d="M672.5 398V420"/><path class="g" d="M672.5 411V420"/><path class="w" d="M673.5 409V415"/><path class="r" d="M673.5 411V413"/><path class="w" d="M674.5 409V421"/><path class="r" d="M674.5 413V419"/><path class="w" d="M676.5 414V422"/><path class="g" d="M676.5 417V419"/><path class="w" d="M677.5 410V419"/><path class="g" d="M677.5 412V418"/><path class="w" d="M679.5 382V414"/><path class="g" d="M679.5 383V413"/><path class="w" d="M680.5 383V386"/><path class="r" d="M680.5 383V385"/><path class="w" d="M681.5 380V388"/><path class="g" d="M681.5 382V386"/><path class="w" d="M683.5 381V384"/><path class="r" d="M683.5 382V383"/><path class="w" d="M684.5 374V398"/><path class="r" d="M684.5 383V395"/><path class="w" d="M685.5 382V396"/><path class="g" d="M685.5 384V395"/><path class="w" d="M687.5 374V402"/><path class="r" d="M687.5 383V396"/><path class="w" d="M688.5 386V398"/><path class="g" d="M688.5 390V396"/><path class="w" d="M689.5 382V400"/><path class="r" d="M689.5 388V395"/><path class="w" d="M691.5 393V396"/><path class="g" d="M691.5 394V395"/><path class="w" d="M692.5 387V399"/><path class="g" d="M692.5 388V394"/><path class="w" d="M694.5 381V392"/><path class="g" d="M694.5 382V388"/><path class="w" d="M695.5 380V383"/><path class="g" d="M695.5 381V382"/><path class="w" d="M696.5 378V387"/><path class="r" d="M696.5 381V385"/><path class="w" d="M698.5 376V390"/><path class="g" d="M698.5 380V385"/><path class="w" d="M699.5 381V386"/><path class="r" d="M699.5 382V384"/><path class="w" d="M700.5 382V385"/><path class="g" d="M700.5 382V384"/><path class="w" d="M702.5 382V386"/><path class="g" d="M702.5 383V385"/><path class="w" d="M703.5 376V385"/><path class="g" d="M703.5 381V383"/><path class="w" d="M704.5 377V387"/><path class="r" d="M704.5 381V384"/><path class="w" d="M706.5 380V389"/><path class="r" d="M706.5 383V385"/><path class="w" d="M707.5 382V387"/><path class="g" d="M707.5 383V385"/><path class="w" d="M709.5 382V389"/><path class="g" d="M709.5 383V385"/><path class="w" d="M710.5 365V386"/><path class="g" d="M710.5 366V384"/><path class="w" d="M711.5 361V368"/><path class="g" d="M711.5 364V367"/><path class="w" d="M713.5 362V367"/><path class="r" d="M713.5 364V366"/><path class="w" d="M714.5 360V372"/><path class="r" d="M714.5 365V369"/><path class="w" d="M715.5 365V371"/><path class="g" d="M715.5 366V369"/><path class="w" d="M717.5 363V370"/><path class="g" d="M717.5 364V367"/><path class="w" d="M718.5 361V366"/><path class="r" d="M718.5 364V366"/><path class="w" d="M720.5 363V374"/><path class="r" d="M720.5 366V372"/><path class="w" d="M721.5 366V374"/><path class="g" d="M721.5 367V372"/><path class="w" d="M722.5 364V379"/><path class="r" d="M722.5 366V374"/><path class="w" d="M724.5 372V392"/><path class="r" d="M724.5 374V384"/><path class="w" d="M725.5 381V388"/><path class="r" d="M725.5 384V386"/><path class="w" d="M726.5 376V392"/><path class="r" d="M726.5 384V388"/><path class="w" d="M728.5 386V391"/><path class="g" d="M728.5 387V388"/><path class="w" d="M729.5 384V394"/><path class="r" d="M729.5 387V391"/><path class="w" d="M730.5 390V394"/><path class="r" d="M730.5 391V393"/><path class="w" d="M732.5 384V393"/><path class="g" d="M732.5 387V391"/><path class="w" d="M733.5 367V390"/><path class="g" d="M733.5 370V387"/><path class="w" d="M735.5 367V370"/><path class="g" d="M735.5 368V370"/><path class="w" d="M736.5 368V377"/><path class="r" d="M736.5 370V375"/><path class="w" d="M737.5 374V378"/><path class="r" d="M737.5 375V377"/><path class="w" d="M739.5 371V390"/><path class="r" d="M739.5 375V385"/><path class="w" d="M740.5 384V389"/><path class="r" d="M740.5 385V387"/><path class="w" d="M741.5 374V390"/><path class="g" d="M741.5 377V386"/><path class="w" d="M743.5 374V382"/><path class="r" d="M743.5 377V380"/><path class="w" d="M744.5 372V380"/><path class="g" d="M744.5 376V380"/><path class="w" d="M745.5 370V378"/><path class="g" d="M745.5 375V378"/><path class="w" d="M747.5 374V378"/><path class="r" d="M747.5 375V376"/><path class="w" d="M748.5 374V393"/><path class="r" d="M748.5 376V388"/><path class="w" d="M750.5 386V389"/><path class="g" d="M750.5 387V388"/><path class="w" d="M751.5 386V393"/><path class="r" d="M751.5 387V391"/><path class="w" d="M752.5 382V396"/><path class="r" d="M752.5 387V395"/><path class="w" d="M754.5 387V406"/><path class="g" d="M754.5 393V395"/><path class="w" d="M755.5 389V395"/><path class="r" d="M755.5 393V394"/><path class="w" d="M756.5 387V396"/><path class="g" d="M756.5 388V395"/><path class="w" d="M758.5 388V394"/><path class="r" d="M758.5 388V390"/><path class="w" d="M759.5 389V396"/><path class="r" d="M759.5 390V393"/><path class="w" d="M760.5 390V396"/><path class="g" d="M760.5 391V393"/><path class="w" d="M762.5 386V398"/><path class="r" d="M762.5 391V396"/><path class="w" d="M763.5 395V402"/><path class="r" d="M763.5 396V399"/><path class="w" d="M765.5 391V397"/><path class="g" d="M765.5 392V397"/><path class="w" d="M766.5 391V396"/><path class="r" d="M766.5 392V394"/><path class="w" d="M767.5 392V394"/><path class="g" d="M767.5 393V394"/><path class="w" d="M769.5 391V399"/><path class="r" d="M769.5 392V396"/><path class="w" d="M770.5 387V401"/><path class="r" d="M770.5 393V401"/><path class="w" d="M771.5 400V404"/><path class="r" d="M771.5 401V403"/><path class="w" d="M773.5 396V405"/><path class="g" d="M773.5 397V402"/><path class="w" d="M774.5 393V399"/><path class="g" d="M774.5 396V397"/><path class="w" d="M775.5 382V401"/><path class="g" d="M775.5 387V397"/><path class="w" d="M777.5 381V392"/><path class="g" d="M777.5 385V388"/><path class="w" d="M778.5 383V389"/><path class="r" d="M778.5 385V388"/><path class="w" d="M780.5 385V394"/><path class="r" d="M780.5 386V393"/><path class="w" d="M781.5 390V396"/><path class="r" d="M781.5 391V394"/><path class="w" d="M782.5 393V398"/><path class="r" d="M782.5 394V396"/><path class="w" d="M784.5 389V400"/><path class="g" d="M784.5 392V395"/><path class="w" d="M785.5 382V407"/><path class="r" d="M785.5 393V406"/><path class="w" d="M786.5 393V410"/><path class="r" d="M786.5 406V408"/><path class="w" d="M788.5 394V410"/><path class="g" d="M788.5 395V407"/><path class="w" d="M789.5 389V397"/><path class="g" d="M789.5 391V395"/><path class="w" d="M791.5 388V400"/><path class="r" d="M791.5 392V398"/><path class="w" d="M792.5 396V402"/><path class="r" d="M792.5 398V400"/><path class="w" d="M793.5 395V405"/><path class="r" d="M793.5 398V402"/><path class="w" d="M795.5 400V403"/><path class="g" d="M795.5 400V402"/><path class="w" d="M796.5 398V405"/><path class="r" d="M796.5 402V405"/><path class="w" d="M797.5 401V409"/><path class="r" d="M797.5 405V407"/><path class="w" d="M799.5 402V409"/><path class="r" d="M799.5 403V408"/><path class="w" d="M800.5 403V415"/><path class="g" d="M800.5 404V408"/><path class="w" d="M801.5 402V412"/><path class="r" d="M801.5 404V408"/><path class="w" d="M803.5 389V411"/><path class="g" d="M803.5 397V407"/><path class="w" d="M804.5 393V400"/><path class="g" d="M804.5 395V398"/><path class="w" d="M806.5 394V398"/><path class="r" d="M806.5 395V397"/><path class="w" d="M807.5 382V398"/><path class="g" d="M807.5 384V396"/><path class="w" d="M808.5 362V386"/><path class="g" d="M808.5 367V385"/><path class="w" d="M810.5 366V370"/><path class="r" d="M810.5 367V370"/><path class="w" d="M811.5 361V370"/><path class="g" d="M811.5 364V369"/><path class="w" d="M812.5 356V367"/><path class="r" d="M812.5 364V366"/><path class="w" d="M814.5 359V370"/><path class="g" d="M814.5 361V366"/><path class="w" d="M815.5 358V364"/><path class="g" d="M815.5 359V361"/><path class="w" d="M816.5 361V367"/><path class="r" d="M816.5 362V365"/><path class="w" d="M818.5 365V369"/><path class="r" d="M818.5 365V368"/><path class="w" d="M819.5 360V369"/><path class="g" d="M819.5 363V366"/><path class="w" d="M821.5 362V364"/><path class="r" d="M821.5 363V364"/><path class="w" d="M822.5 355V369"/><path class="g" d="M822.5 357V364"/><path class="w" d="M823.5 355V360"/><path class="r" d="M823.5 357V360"/><path class="w" d="M825.5 353V364"/><path class="g" d="M825.5 357V361"/><path class="w" d="M826.5 356V361"/><path class="r" d="M826.5 357V360"/><path class="w" d="M827.5 359V366"/><path class="r" d="M827.5 359V364"/><path class="w" d="M829.5 360V366"/><path class="g" d="M829.5 362V364"/><path class="w" d="M830.5 363V367"/><path class="r" d="M830.5 363V366"/><path class="w" d="M831.5 364V371"/><path class="r" d="M831.5 366V369"/><path class="w" d="M833.5 360V366"/><path class="g" d="M833.5 362V365"/><path class="w" d="M834.5 358V366"/><path class="r" d="M834.5 362V363"/><path class="w" d="M836.5 356V366"/><path class="g" d="M836.5 360V364"/><path class="w" d="M837.5 353V364"/><path class="g" d="M837.5 355V360"/><path class="w" d="M838.5 352V356"/><path class="g" d="M838.5 354V355"/><path class="w" d="M840.5 353V366"/><path class="r" d="M840.5 354V365"/><path class="w" d="M841.5 362V366"/><path class="g" d="M841.5 363V365"/><path class="w" d="M842.5 363V369"/><path class="r" d="M842.5 364V367"/><path class="w" d="M844.5 361V367"/><path class="g" d="M844.5 365V367"/><path class="w" d="M845.5 364V372"/><path class="r" d="M845.5 366V370"/><path class="w" d="M846.5 368V376"/><path class="r" d="M846.5 370V372"/><path class="w" d="M848.5 364V373"/><path class="g" d="M848.5 366V370"/><path class="w" d="M849.5 363V370"/><path class="r" d="M849.5 366V369"/><path class="w" d="M851.5 363V372"/><path class="r" d="M851.5 366V370"/><path class="w" d="M852.5 366V379"/><path class="r" d="M852.5 369V376"/><path class="w" d="M853.5 375V380"/><path class="r" d="M853.5 376V378"/><path class="w" d="M855.5 373V377"/><path class="g" d="M855.5 373V376"/><path class="w" d="M856.5 371V374"/><path class="g" d="M856.5 372V373"/><path class="w" d="M857.5 372V376"/><path class="r" d="M857.5 373V375"/><path class="w" d="M859.5 371V378"/><path class="r" d="M859.5 375V377"/><path class="w" d="M860.5 370V378"/><path class="g" d="M860.5 373V377"/><path class="w" d="M862.5 372V377"/><path class="r" d="M862.5 373V375"/><path class="w" d="M863.5 373V376"/><path class="g" d="M863.5 374V375"/><path class="w" d="M864.5 371V381"/><path class="r" d="M864.5 374V377"/><path class="w" d="M866.5 376V379"/><path class="r" d="M866.5 377V378"/><path class="w" d="M867.5 374V378"/><path class="g" d="M867.5 376V378"/><path class="w" d="M868.5 372V380"/><path class="g" d="M868.5 374V377"/><path class="w" d="M870.5 368V377"/><path class="r" d="M870.5 374V375"/><path class="w" d="M871.5 371V378"/><path class="g" d="M871.5 373V376"/><path class="w" d="M872.5 371V374"/><path class="r" d="M872.5 373V374"/><path class="w" d="M874.5 366V376"/><path class="g" d="M874.5 369V374"/><path class="w" d="M875.5 364V372"/><path class="g" d="M875.5 367V369"/><path class="w" d="M877.5 366V374"/><path class="r" d="M877.5 368V373"/><path class="w" d="M878.5 371V376"/><path class="r" d="M878.5 373V374"/><path class="w" d="M879.5 371V375"/><path class="g" d="M879.5 371V374"/><path class="w" d="M881.5 370V374"/><path class="r" d="M881.5 371V373"/><path class="w" d="M882.5 370V376"/><path class="r" d="M882.5 373V375"/><path class="w" d="M883.5 372V378"/><path class="g" d="M883.5 373V375"/><path class="w" d="M885.5 375V380"/><path class="r" d="M885.5 375V378"/><path class="w" d="M886.5 374V379"/><path class="g" d="M886.5 375V378"/><path class="w" d="M887.5 368V391"/><path class="r" d="M887.5 375V387"/><path class="w" d="M889.5 386V410"/><path class="r" d="M889.5 386V401"/><path class="w" d="M890.5 399V402"/><path class="g" d="M890.5 399V401"/><path class="w" d="M892.5 398V410"/><path class="r" d="M892.5 400V405"/><path class="w" d="M893.5 403V407"/><path class="r" d="M893.5 405V406"/><path class="w" d="M894.5 394V409"/><path class="g" d="M894.5 397V405"/><path class="w" d="M896.5 395V400"/><path class="r" d="M896.5 397V398"/><path class="w" d="M897.5 393V408"/><path class="r" d="M897.5 398V403"/><path class="w" d="M898.5 401V405"/><path class="g" d="M898.5 402V403"/><path class="w" d="M900.5 401V409"/><path class="r" d="M900.5 402V405"/><path class="w" d="M901.5 401V406"/><path class="g" d="M901.5 402V405"/><path class="w" d="M902.5 384V408"/><path class="g" d="M902.5 386V403"/><path class="w" d="M904.5 384V387"/><path class="r" d="M904.5 386V387"/><path class="w" d="M905.5 385V402"/><path class="r" d="M905.5 387V401"/><path class="w" d="M907.5 400V410"/><path class="r" d="M907.5 401V403"/><path class="w" d="M908.5 401V404"/><path class="g" d="M908.5 402V403"/><path class="w" d="M909.5 401V409"/><path class="r" d="M909.5 402V406"/><path class="w" d="M911.5 401V408"/><path class="g" d="M911.5 403V406"/><path class="w" d="M912.5 403V406"/><path class="r" d="M912.5 403V405"/><path class="w" d="M913.5 404V411"/><path class="r" d="M913.5 405V408"/><path class="w" d="M915.5 404V411"/><path class="g" d="M915.5 407V408"/><path class="w" d="M916.5 403V408"/><path class="g" d="M916.5 405V407"/><path class="w" d="M917.5 400V405"/><path class="g" d="M917.5 403V405"/><path class="w" d="M919.5 400V415"/><path class="r" d="M919.5 405V412"/><path class="w" d="M920.5 406V414"/><path class="g" d="M920.5 410V412"/><path class="w" d="M922.5 396V417"/><path class="g" d="M922.5 402V412"/><path class="w" d="M923.5 399V408"/><path class="r" d="M923.5 402V404"/><path class="w" d="M924.5 395V406"/><path class="g" d="M924.5 398V403"/><path class="w" d="M926.5 395V402"/><path class="g" d="M926.5 397V398"/><path class="w" d="M927.5 394V400"/><path class="g" d="M927.5 395V399"/><path class="w" d="M928.5 393V400"/><path class="r" d="M928.5 395V397"/><path class="w" d="M930.5 387V401"/><path class="g" d="M930.5 391V396"/><path class="w" d="M931.5 388V395"/><path class="r" d="M931.5 391V393"/><path class="w" d="M932.5 388V397"/><path class="r" d="M932.5 392V397"/><path class="w" d="M934.5 394V400"/><path class="g" d="M934.5 395V397"/><path class="w" d="M935.5 392V403"/><path class="r" d="M935.5 395V398"/><path class="w" d="M937.5 395V401"/><path class="r" d="M937.5 397V400"/><path class="w" d="M938.5 395V400"/><path class="g" d="M938.5 398V400"/><path class="w" d="M939.5 397V405"/><path class="r" d="M939.5 399V402"/><path class="w" d="M941.5 399V404"/><path class="r" d="M941.5 402V404"/><path class="w" d="M942.5 398V405"/><path class="g" d="M942.5 399V402"/><path class="w" d="M943.5 397V405"/><path class="r" d="M943.5 399V402"/><path class="w" d="M945.5 389V401"/><path class="g" d="M945.5 392V401"/><path class="w" d="M946.5 386V397"/><path class="g" d="M946.5 391V395"/><path class="w" d="M948.5 390V394"/><path class="r" d="M948.5 391V393"/><path class="w" d="M949.5 380V396"/><path class="g" d="M949.5 385V391"/><path class="w" d="M950.5 385V389"/><path class="r" d="M950.5 385V387"/><path class="w" d="M952.5 387V391"/><path class="r" d="M952.5 388V390"/><path class="w" d="M953.5 387V391"/><path class="g" d="M953.5 388V390"/><path class="w" d="M954.5 385V390"/><path class="g" d="M954.5 386V389"/><path class="w" d="M956.5 382V389"/><path class="g" d="M956.5 383V386"/><path class="w" d="M957.5 382V390"/><path class="r" d="M957.5 386V389"/><path class="w" d="M958.5 386V390"/><path class="r" d="M958.5 389V390"/><path class="w" d="M960.5 385V398"/><path class="r" d="M960.5 388V394"/><path class="w" d="M961.5 390V395"/><path class="g" d="M961.5 391V394"/><path class="w" d="M963.5 391V402"/><path class="r" d="M963.5 392V398"/><path class="w" d="M964.5 396V401"/><path class="g" d="M964.5 396V398"/><path class="w" d="M965.5 392V400"/><path class="g" d="M965.5 394V398"/><path class="w" d="M967.5 391V396"/><path class="r" d="M967.5 394V395"/><path class="w" d="M968.5 367V406"/><path class="g" d="M968.5 380V396"/><path class="w" d="M969.5 379V384"/><path class="r" d="M969.5 380V382"/><path class="w" d="M971.5 379V385"/><path class="r" d="M971.5 380V382"/><path class="w" d="M972.5 372V383"/><path class="g" d="M972.5 376V382"/><path class="w" d="M973.5 371V377"/><path class="g" d="M973.5 375V376"/><path class="w" d="M975.5 367V379"/><path class="g" d="M975.5 368V377"/><path class="w" d="M976.5 352V379"/><path class="g" d="M976.5 356V369"/><path class="w" d="M978.5 353V358"/><path class="g" d="M978.5 354V356"/><path class="w" d="M979.5 335V359"/><path class="g" d="M979.5 338V357"/><path class="w" d="M980.5 331V340"/><path class="g" d="M980.5 332V339"/><path class="w" d="M982.5 324V333"/><path class="g" d="M982.5 330V332"/><path class="w" d="M983.5 327V336"/><path class="r" d="M983.5 331V335"/><path class="w" d="M984.5 331V338"/><path class="g" d="M984.5 333V335"/><path class="w" d="M986.5 331V340"/><path class="g" d="M986.5 332V336"/><path class="w" d="M987.5 330V335"/><path class="r" d="M987.5 332V334"/><path class="w" d="M988.5 332V382"/><path class="r" d="M988.5 333V336"/><path class="w" d="M990.5 331V337"/><path class="g" d="M990.5 332V336"/><path class="w" d="M991.5 323V337"/><path class="g" d="M991.5 328V333"/><path class="w" d="M993.5 325V331"/><path class="g" d="M993.5 326V328"/><path class="w" d="M994.5 328V333"/><path class="r" d="M994.5 329V332"/><path class="w" d="M995.5 330V333"/><path class="g" d="M995.5 330V332"/><path class="w" d="M997.5 324V332"/><path class="g" d="M997.5 326V331"/><path class="w" d="M998.5 322V332"/><path class="r" d="M998.5 326V328"/><path class="w" d="M999.5 318V329"/><path class="g" d="M999.5 324V328"/><path class="w" d="M1001.5 323V328"/><path class="r" d="M1001.5 324V327"/><path class="w" d="M1002.5 308V328"/><path class="g" d="M1002.5 318V325"/><path class="w" d="M1003.5 316V322"/><path class="r" d="M1003.5 318V320"/><path class="w" d="M1005.5 312V323"/><path class="g" d="M1005.5 314V320"/><path class="w" d="M1006.5 312V332"/><path class="r" d="M1006.5 313V326"/><path class="w" d="M1008.5 322V328"/><path class="g" d="M1008.5 325V326"/><path class="w" d="M1009.5 314V328"/><path class="g" d="M1009.5 314V326"/><path class="w" d="M1010.5 311V317"/><path class="r" d="M1010.5 314V315"/><path class="w" d="M1012.5 297V336"/><path class="r" d="M1012.5 313V327"/><path class="w" d="M1013.5 312V328"/><path class="g" d="M1013.5 313V327"/><path class="w" d="M1014.5 311V319"/><path class="r" d="M1014.5 312V316"/><path class="w" d="M1016.5 312V323"/><path class="r" d="M1016.5 313V316"/><path class="w" d="M1017.5 312V318"/><path class="g" d="M1017.5 314V316"/><path class="w" d="M1019.5 311V325"/><path class="g" d="M1019.5 312V315"/><path class="w" d="M1020.5 310V315"/><path class="r" d="M1020.5 312V313"/><path class="w" d="M1021.5 307V317"/><path class="r" d="M1021.5 312V314"/><path class="w" d="M1023.5 307V317"/><path class="g" d="M1023.5 309V314"/><path class="w" d="M1024.5 310V319"/><path class="r" d="M1024.5 311V316"/><path class="w" d="M1025.5 305V319"/><path class="r" d="M1025.5 316V318"/><path class="w" d="M1027.5 305V320"/><path class="g" d="M1027.5 308V316"/><path class="w" d="M1028.5 306V309"/><path class="g" d="M1028.5 307V308"/><path class="w" d="M1029.5 303V313"/><path class="r" d="M1029.5 307V311"/><path class="w" d="M1031.5 308V312"/><path class="g" d="M1031.5 309V311"/><path class="w" d="M1032.5 288V312"/><path class="g" d="M1032.5 299V311"/><path class="w" d="M1034.5 281V307"/><path class="g" d="M1034.5 284V301"/><path class="w" d="M1035.5 273V286"/><path class="g" d="M1035.5 274V285"/><path class="w" d="M1036.5 272V277"/><path class="g" d="M1036.5 273V274"/><path class="w" d="M1038.5 270V277"/><path class="r" d="M1038.5 274V276"/><path class="w" d="M1039.5 273V279"/><path class="r" d="M1039.5 276V278"/><path class="w" d="M1040.5 270V277"/><path class="g" d="M1040.5 273V276"/><path class="w" d="M1042.5 272V279"/><path class="r" d="M1042.5 273V278"/><path class="w" d="M1043.5 268V281"/><path class="g" d="M1043.5 272V278"/><path class="w" d="M1044.5 266V295"/><path class="r" d="M1044.5 273V291"/><path class="w" d="M1046.5 288V293"/><path class="g" d="M1046.5 289V291"/><path class="w" d="M1047.5 276V295"/><path class="g" d="M1047.5 279V290"/><path class="w" d="M1049.5 275V291"/><path class="r" d="M1049.5 279V289"/><path class="w" d="M1050.5 282V291"/><path class="g" d="M1050.5 283V289"/><path class="w" d="M1051.5 275V287"/><path class="g" d="M1051.5 278V284"/><path class="w" d="M1053.5 274V289"/><path class="r" d="M1053.5 278V284"/><path class="w" d="M1054.5 281V294"/><path class="r" d="M1054.5 282V286"/><path class="w" d="M1055.5 281V294"/><path class="g" d="M1055.5 282V286"/><path class="w" d="M1057.5 270V287"/><path class="g" d="M1057.5 275V284"/><path class="w" d="M1058.5 270V276"/><path class="g" d="M1058.5 272V275"/><path class="w" d="M1059.5 274V280"/><path class="r" d="M1059.5 274V277"/><path class="w" d="M1061.5 275V279"/><path class="g" d="M1061.5 275V277"/><path class="w" d="M1062.5 273V279"/><path class="r" d="M1062.5 275V278"/><path class="w" d="M1064.5 275V280"/><path class="g" d="M1064.5 275V278"/><path class="w" d="M1065.5 273V286"/><path class="r" d="M1065.5 276V282"/><path class="w" d="M1066.5 281V287"/><path class="r" d="M1066.5 282V284"/><path class="w" d="M1068.5 275V284"/><path class="g" d="M1068.5 276V282"/><path class="w" d="M1069.5 270V277"/><path class="g" d="M1069.5 273V276"/><path class="w" d="M1070.5 273V286"/><path class="r" d="M1070.5 275V281"/><path class="w" d="M1072.5 279V285"/><path class="r" d="M1072.5 281V283"/><path class="w" d="M1073.5 270V287"/><path class="g" d="M1073.5 274V282"/><path class="w" d="M1074.5 262V281"/><path class="g" d="M1074.5 268V279"/><path class="w" d="M1076.5 265V268"/><path class="g" d="M1076.5 267V268"/><path class="w" d="M1077.5 262V292"/><path class="r" d="M1077.5 268V279"/><path class="w" d="M1079.5 266V276"/><path class="g" d="M1079.5 270V272"/><path class="w" d="M1080.5 267V274"/><path class="r" d="M1080.5 270V273"/><path class="w" d="M1081.5 255V276"/><path class="g" d="M1081.5 257V271"/><path class="w" d="M1083.5 255V260"/><path class="r" d="M1083.5 257V259"/><path class="w" d="M1084.5 250V260"/><path class="r" d="M1084.5 257V260"/><path class="w" d="M1085.5 246V264"/><path class="r" d="M1085.5 260V262"/><path class="w" d="M1087.5 257V262"/><path class="r" d="M1087.5 258V261"/><path class="w" d="M1088.5 257V262"/><path class="g" d="M1088.5 260V261"/><path class="w" d="M1090.5 254V282"/><path class="r" d="M1090.5 259V280"/><path class="w" d="M1091.5 277V281"/><path class="g" d="M1091.5 278V280"/><path class="w" d="M1092.5 277V282"/><path class="r" d="M1092.5 278V281"/><path class="w" d="M1094.5 279V281"/><path class="g" d="M1094.5 280V281"/><path class="w" d="M1095.5 274V283"/><path class="g" d="M1095.5 277V280"/><path class="w" d="M1096.5 275V282"/><path class="r" d="M1096.5 277V280"/><path class="w" d="M1098.5 276V298"/><path class="r" d="M1098.5 280V291"/><path class="w" d="M1099.5 286V298"/><path class="r" d="M1099.5 286V297"/><path class="w" d="M1100.5 297V301"/><path class="r" d="M1100.5 297V299"/><path class="w" d="M1102.5 293V300"/><path class="g" d="M1102.5 296V299"/><path class="w" d="M1103.5 294V306"/><path class="r" d="M1103.5 296V301"/><path class="w" d="M1105.5 298V303"/><path class="g" d="M1105.5 299V301"/><path class="w" d="M1106.5 295V302"/><path class="g" d="M1106.5 297V300"/><path class="w" d="M1107.5 283V299"/><path class="g" d="M1107.5 284V298"/><path class="w" d="M1109.5 277V285"/><path class="g" d="M1109.5 279V284"/><path class="w" d="M1110.5 275V283"/><path class="g" d="M1110.5 277V280"/><path class="w" d="M1111.5 265V278"/><path class="g" d="M1111.5 273V277"/><path class="w" d="M1113.5 271V281"/><path class="r" d="M1113.5 275V279"/><path class="w" d="M1114.5 277V279"/><path class="g" d="M1114.5 278V279"/><path class="w" d="M1115.5 278V281"/><path class="r" d="M1115.5 278V280"/><path class="w" d="M1117.5 274V282"/><path class="g" d="M1117.5 278V280"/><path class="w" d="M1118.5 276V285"/><path class="r" d="M1118.5 278V281"/><path class="w" d="M1120.5 276V282"/><path class="r" d="M1120.5 278V281"/><path class="w" d="M1121.5 275V281"/><path class="g" d="M1121.5 279V281"/><path class="w" d="M1122.5 276V284"/><path class="g" d="M1122.5 277V281"/><path class="w" d="M1124.5 260V280"/><path class="g" d="M1124.5 271V278"/><path class="w" d="M1125.5 269V273"/><path class="r" d="M1125.5 271V273"/><path class="w" d="M1126.5 257V274"/><path class="g" d="M1126.5 264V272"/><path class="w" d="M1128.5 244V268"/><path class="g" d="M1128.5 250V265"/><path class="w" d="M1129.5 248V254"/><path class="r" d="M1129.5 250V252"/><path class="w" d="M1130.5 233V259"/><path class="g" d="M1130.5 239V250"/><path class="w" d="M1132.5 238V281"/><path class="r" d="M1132.5 239V244"/><path class="w" d="M1133.5 239V278"/><path class="g" d="M1133.5 240V244"/><path class="w" d="M1135.5 230V241"/><path class="g" d="M1135.5 233V240"/><path class="w" d="M1136.5 231V236"/><path class="r" d="M1136.5 233V235"/><path class="w" d="M1137.5 227V236"/><path class="g" d="M1137.5 232V234"/><path class="w" d="M1139.5 229V236"/><path class="g" d="M1139.5 230V232"/><path class="w" d="M1140.5 231V236"/><path class="r" d="M1140.5 232V234"/><path class="w" d="M1141.5 226V235"/><path class="g" d="M1141.5 231V234"/><path class="w" d="M1143.5 231V238"/><path class="r" d="M1143.5 232V236"/><path class="w" d="M1144.5 231V236"/><path class="g" d="M1144.5 233V236"/><path class="w" d="M1145.5 231V237"/><path class="g" d="M1145.5 231V233"/><path class="w" d="M1147.5 229V238"/><path class="r" d="M1147.5 232V235"/><path class="w" d="M1148.5 218V236"/><path class="g" d="M1148.5 219V233"/><path class="w" d="M1150.5 218V222"/><path class="r" d="M1150.5 219V221"/><path class="w" d="M1151.5 203V222"/><path class="g" d="M1151.5 207V221"/><path class="w" d="M1152.5 190V211"/><path class="g" d="M1152.5 195V208"/><path class="w" d="M1154.5 193V198"/><path class="r" d="M1154.5 195V196"/><path class="w" d="M1155.5 178V200"/><path class="g" d="M1155.5 186V195"/><path class="w" d="M1156.5 185V189"/><path class="r" d="M1156.5 186V188"/><path class="w" d="M1158.5 161V190"/><path class="g" d="M1158.5 166V187"/><path class="w" d="M1159.5 163V170"/><path class="r" d="M1159.5 166V168"/><path class="w" d="M1161.5 165V200"/><path class="r" d="M1161.5 166V187"/><path class="w" d="M1162.5 164V189"/><path class="g" d="M1162.5 165V186"/><path class="w" d="M1163.5 158V169"/><path class="g" d="M1163.5 163V166"/><path class="w" d="M1165.5 162V168"/><path class="r" d="M1165.5 163V166"/><path class="w" d="M1166.5 157V167"/><path class="g" d="M1166.5 159V165"/><path class="w" d="M1167.5 145V165"/><path class="g" d="M1167.5 150V160"/><path class="w" d="M1169.5 148V153"/><path class="r" d="M1169.5 150V151"/><path class="w" d="M1170.5 143V158"/><path class="g" d="M1170.5 146V152"/><path class="w" d="M1171.5 145V165"/><path class="r" d="M1171.5 146V160"/><path class="w" d="M1173.5 154V163"/><path class="g" d="M1173.5 157V160"/><path class="w" d="M1174.5 151V157"/><path class="g" d="M1174.5 153V157"/><path class="w" d="M1176.5 150V170"/><path class="r" d="M1176.5 153V162"/><path class="w" d="M1177.5 166V176"/><path class="r" d="M1177.5 168V173"/><path class="w" d="M1178.5 164V176"/><path class="g" d="M1178.5 168V173"/><path class="w" d="M1180.5 163V185"/><path class="r" d="M1180.5 168V177"/><path class="w" d="M1181.5 172V193"/><path class="g" d="M1181.5 174V177"/><path class="w" d="M1182.5 173V181"/><path class="r" d="M1182.5 173V177"/><path class="w" d="M1184.5 170V181"/><path class="g" d="M1184.5 173V176"/><path class="w" d="M1185.5 171V178"/><path class="r" d="M1185.5 173V177"/><path class="w" d="M1186.5 149V186"/><path class="g" d="M1186.5 154V179"/><path class="w" d="M1188.5 151V156"/><path class="g" d="M1188.5 152V154"/><path class="w" d="M1189.5 144V162"/><path class="r" d="M1189.5 153V160"/><path class="w" d="M1191.5 153V167"/><path class="g" d="M1191.5 155V162"/><path class="w" d="M1192.5 151V160"/><path class="r" d="M1192.5 155V158"/><path class="w" d="M1193.5 153V163"/><path class="r" d="M1193.5 154V161"/><path class="w" d="M1195.5 159V164"/><path class="r" d="M1195.5 161V162"/><path class="w" d="M1196.5 155V163"/><path class="g" d="M1196.5 155V159"/><path class="w" d="M1197.5 155V160"/><path class="r" d="M1197.5 155V159"/><path class="w" d="M1199.5 154V174"/><path class="r" d="M1199.5 159V172"/><path class="w" d="M1200.5 167V173"/><path class="g" d="M1200.5 169V172"/><path class="w" d="M1201.5 170V178"/><path class="r" d="M1201.5 171V174"/><path class="w" d="M1203.5 174V177"/><path class="r" d="M1203.5 174V176"/><path class="w" d="M1204.5 160V173"/><path class="g" d="M1204.5 161V172"/><path class="w" d="M1206.5 156V163"/><path class="g" d="M1206.5 159V161"/><path class="w" d="M1207.5 145V164"/><path class="g" d="M1207.5 151V161"/><path class="w" d="M1208.5 148V157"/><path class="r" d="M1208.5 151V157"/><path class="w" d="M1210.5 157V162"/><path class="r" d="M1210.5 158V161"/><path class="w" d="M1211.5 155V161"/><path class="g" d="M1211.5 156V160"/><path class="w" d="M1212.5 153V159"/><path class="g" d="M1212.5 155V156"/><path class="w" d="M1214.5 151V180"/><path class="r" d="M1214.5 156V179"/><path class="w" d="M1215.5 173V182"/><path class="g" d="M1215.5 176V179"/><path class="w" d="M1216.5 172V194"/><path class="r" d="M1216.5 176V186"/><path class="w" d="M1218.5 181V197"/><path class="r" d="M1218.5 182V191"/><path class="w" d="M1219.5 189V194"/><path class="r" d="M1219.5 191V192"/><path class="w" d="M1221.5 186V192"/><path class="g" d="M1221.5 189V192"/><path class="w" d="M1222.5 172V194"/><path class="g" d="M1222.5 180V191"/><path class="w" d="M1223.5 172V182"/><path class="g" d="M1223.5 175V181"/><path class="w" d="M1225.5 174V179"/><path class="r" d="M1225.5 175V177"/><path class="w" d="M1226.5 166V178"/><path class="g" d="M1226.5 170V175"/><path class="w" d="M1227.5 166V171"/><path class="g" d="M1227.5 167V170"/><path class="w" d="M1229.5 167V180"/><path class="r" d="M1229.5 170V179"/><path class="w" d="M1230.5 172V180"/><path class="g" d="M1230.5 176V179"/><path class="w" d="M1232.5 174V183"/><path class="r" d="M1232.5 176V181"/><path class="w" d="M1233.5 173V185"/><path class="g" d="M1233.5 176V181"/><path class="w" d="M1234.5 175V186"/><path class="r" d="M1234.5 177V184"/><path class="w" d="M1236.5 181V185"/><path class="g" d="M1236.5 183V184"/><path class="w" d="M1237.5 183V204"/><path class="r" d="M1237.5 184V198"/><path class="w" d="M1238.5 195V213"/><path class="r" d="M1238.5 197V208"/><path class="w" d="M1240.5 205V211"/><path class="r" d="M1240.5 208V210"/><path class="w" d="M1241.5 193V212"/><path class="g" d="M1241.5 196V207"/><path class="w" d="M1242.5 174V202"/><path class="g" d="M1242.5 180V197"/><path class="w" d="M1244.5 175V187"/><path class="r" d="M1244.5 182V185"/><path class="w" d="M1245.5 181V187"/><path class="g" d="M1245.5 182V185"/><path class="w" d="M1247.5 182V187"/><path class="r" d="M1247.5 183V186"/><path class="w" d="M1248.5 182V191"/><path class="g" d="M1248.5 184V186"/><path class="w" d="M1249.5 182V188"/><path class="r" d="M1249.5 184V186"/><path class="w" d="M1251.5 178V195"/><path class="r" d="M1251.5 185V190"/><path class="w" d="M1252.5 187V193"/><path class="r" d="M1252.5 190V192"/><path class="w" d="M1253.5 179V196"/><path class="g" d="M1253.5 183V192"/><path class="w" d="M1255.5 181V193"/><path class="r" d="M1255.5 183V188"/><path class="w" d="M1256.5 171V196"/><path class="g" d="M1256.5 172V190"/><path class="w" d="M1257.5 171V182"/><path class="r" d="M1257.5 172V176"/><path class="w" d="M1259.5 169V178"/><path class="g" d="M1259.5 172V175"/><path class="w" d="M1260.5 171V177"/><path class="r" d="M1260.5 172V174"/><path class="w" d="M1262.5 170V177"/><path class="r" d="M1262.5 172V174"/><path class="w" d="M1263.5 149V170"/><path class="g" d="M1263.5 157V167"/><path class="w" d="M1264.5 155V161"/><path class="g" d="M1264.5 156V157"/><path class="w" d="M1266.5 151V162"/><path class="r" d="M1266.5 157V160"/><path class="w" d="M1267.5 157V164"/><path class="g" d="M1267.5 158V160"/><path class="w" d="M1268.5 153V170"/><path class="r" d="M1268.5 159V169"/><path class="w" d="M1270.5 165V172"/><path class="r" d="M1270.5 169V171"/><path class="w" d="M1271.5 155V172"/><path class="g" d="M1271.5 160V169"/><path class="w" d="M1272.5 159V162"/><path class="r" d="M1272.5 160V161"/><path class="w" d="M1274.5 155V171"/><path class="r" d="M1274.5 160V166"/><path class="w" d="M1275.5 158V169"/><path class="g" d="M1275.5 161V166"/><path class="w" d="M1277.5 161V167"/><path class="r" d="M1277.5 162V166"/><path class="w" d="M1278.5 161V167"/><path class="g" d="M1278.5 164V166"/><path class="w" d="M1279.5 162V169"/><path class="g" d="M1279.5 162V166"/><path class="w" d="M1281.5 161V166"/><path class="r" d="M1281.5 162V164"/><path class="w" d="M1282.5 158V170"/><path class="g" d="M1282.5 159V164"/><path class="w" d="M1283.5 153V161"/><path class="r" d="M1283.5 159V161"/><path class="w" d="M1285.5 153V164"/><path class="g" d="M1285.5 154V160"/><path class="w" d="M1286.5 150V159"/><path class="r" d="M1286.5 154V157"/><path class="w" d="M1287.5 152V156"/><path class="g" d="M1287.5 153V155"/><path class="w" d="M1289.5 152V155"/><path class="r" d="M1289.5 153V154"/><path class="w" d="M1290.5 148V157"/><path class="r" d="M1290.5 153V157"/><path class="w" d="M1292.5 156V159"/><path class="g" d="M1292.5 156V157"/><path class="w" d="M1293.5 149V173"/><path class="r" d="M1293.5 157V166"/><path class="w" d="M1294.5 164V167"/><path class="g" d="M1294.5 164V166"/><path class="w" d="M1296.5 165V175"/><path class="r" d="M1296.5 166V170"/><path class="w" d="M1297.5 168V171"/><path class="g" d="M1297.5 168V170"/><path class="w" d="M1298.5 168V175"/><path class="r" d="M1298.5 169V172"/><path class="w" d="M1300.5 171V175"/><path class="r" d="M1300.5 172V174"/><path class="w" d="M1301.5 165V178"/><path class="r" d="M1301.5 170V176"/><path class="w" d="M1302.5 171V178"/><path class="g" d="M1302.5 172V176"/><path class="w" d="M1304.5 169V179"/><path class="r" d="M1304.5 171V178"/><path class="w" d="M1305.5 176V180"/><path class="g" d="M1305.5 177V178"/><path class="w" d="M1307.5 173V181"/><path class="g" d="M1307.5 175V178"/><path class="w" d="M1308.5 173V178"/><path class="r" d="M1308.5 175V177"/><path class="w" d="M1309.5 172V179"/><path class="g" d="M1309.5 175V177"/><path class="w" d="M1311.5 174V186"/><path class="r" d="M1311.5 176V183"/><path class="w" d="M1312.5 173V206"/><path class="r" d="M1312.5 178V198"/><path class="w" d="M1313.5 183V199"/><path class="g" d="M1313.5 186V197"/><path class="w" d="M1315.5 185V190"/><path class="r" d="M1315.5 186V189"/><path class="w" d="M1316.5 185V191"/><path class="g" d="M1316.5 187V189"/><path class="w" d="M1318.5 184V194"/><path class="r" d="M1318.5 188V192"/><path class="w" d="M1319.5 186V192"/><path class="g" d="M1319.5 186V191"/><path class="w" d="M1320.5 178V189"/><path class="r" d="M1320.5 186V188"/><path class="w" d="M1322.5 184V193"/><path class="r" d="M1322.5 188V190"/><path class="w" d="M1323.5 179V189"/><path class="g" d="M1323.5 183V188"/><path class="w" d="M1324.5 184V197"/><path class="r" d="M1324.5 187V197"/><path class="w" d="M1326.5 194V200"/><path class="r" d="M1326.5 197V199"/><path class="w" d="M1327.5 186V207"/><path class="r" d="M1327.5 197V204"/><path class="w" d="M1328.5 198V205"/><path class="g" d="M1328.5 202V204"/><path class="w" d="M1330.5 202V225"/><path class="r" d="M1330.5 203V209"/><path class="w" d="M1331.5 205V212"/><path class="r" d="M1331.5 209V211"/><path class="w" d="M1333.5 204V211"/><path class="g" d="M1333.5 206V210"/><path class="w" d="M1334.5 202V207"/><path class="g" d="M1334.5 205V206"/><path class="w" d="M1335.5 204V209"/><path class="r" d="M1335.5 206V209"/><path class="w" d="M1337.5 192V209"/><path class="g" d="M1337.5 195V208"/><path class="w" d="M1338.5 191V198"/><path class="r" d="M1338.5 195V197"/><path class="w" d="M1339.5 179V197"/><path class="g" d="M1339.5 182V196"/><path class="w" d="M1341.5 178V183"/><path class="g" d="M1341.5 179V182"/><path class="w" d="M1342.5 172V184"/><path class="g" d="M1342.5 175V183"/><path class="w" d="M1343.5 174V180"/><path class="r" d="M1343.5 175V178"/><path class="w" d="M1345.5 174V181"/><path class="r" d="M1345.5 178V181"/><path class="w" d="M1346.5 174V185"/><path class="g" d="M1346.5 175V181"/><path class="w" d="M1348.5 162V177"/><path class="g" d="M1348.5 166V176"/><path class="w" d="M1349.5 162V169"/><path class="g" d="M1349.5 164V166"/><path class="w" d="M1350.5 161V170"/><path class="g" d="M1350.5 164V167"/><path class="w" d="M1352.5 162V167"/><path class="r" d="M1352.5 164V165"/><path class="w" d="M1353.5 163V179"/><path class="r" d="M1353.5 164V174"/><path class="w" d="M1354.5 167V175"/><path class="g" d="M1354.5 171V174"/><path class="w" d="M1356.5 171V184"/><path class="r" d="M1356.5 172V176"/><path class="w" d="M1357.5 156V183"/><path class="g" d="M1357.5 165V177"/><path class="w" d="M1358.5 162V166"/><path class="g" d="M1358.5 164V165"/><path class="w" d="M1360.5 161V172"/><path class="r" d="M1360.5 166V171"/><path class="w" d="M1361.5 169V173"/><path class="r" d="M1361.5 171V172"/><path class="w" d="M1363.5 168V178"/><path class="r" d="M1363.5 170V175"/><path class="w" d="M1364.5 171V177"/><path class="g" d="M1364.5 172V175"/><path class="w" d="M1365.5 170V184"/><path class="r" d="M1365.5 174V182"/><path class="w" d="M1367.5 179V202"/><path class="r" d="M1367.5 182V198"/><path class="w" d="M1368.5 190V245"/><path class="r" d="M1368.5 193V224"/><path class="w" d="M1369.5 221V229"/><path class="r" d="M1369.5 224V226"/><path class="w" d="M1371.5 206V231"/><path class="g" d="M1371.5 208V223"/><path class="w" d="M1372.5 207V211"/><path class="r" d="M1372.5 208V210"/><path class="w" d="M1373.5 206V219"/><path class="r" d="M1373.5 209V218"/><path class="w" d="M1375.5 192V224"/><path class="g" d="M1375.5 197V217"/><path class="w" d="M1376.5 192V199"/><path class="g" d="M1376.5 195V197"/><path class="w" d="M1378.5 185V204"/><path class="g" d="M1378.5 192V198"/><path class="w" d="M1379.5 192V196"/><path class="r" d="M1379.5 192V194"/><path class="w" d="M1380.5 187V202"/><path class="r" d="M1380.5 191V197"/><path class="w" d="M1382.5 194V199"/><path class="g" d="M1382.5 196V197"/><path class="w" d="M1383.5 186V206"/><path class="r" d="M1383.5 196V201"/><path class="w" d="M1384.5 196V213"/><path class="g" d="M1384.5 199V201"/><path class="w" d="M1386.5 199V209"/><path class="r" d="M1386.5 201V207"/><path class="w" d="M1387.5 195V212"/><path class="g" d="M1387.5 197V208"/><path class="w" d="M1389.5 196V201"/><path class="r" d="M1389.5 197V200"/><path class="w" d="M1390.5 195V200"/><path class="g" d="M1390.5 196V199"/><path class="w" d="M1391.5 192V201"/><path class="r" d="M1391.5 196V199"/><path class="w" d="M1393.5 185V205"/><path class="g" d="M1393.5 190V198"/><path class="w" d="M1394.5 189V196"/><path class="r" d="M1394.5 190V194"/><path class="w" d="M1395.5 177V197"/><path class="g" d="M1395.5 180V193"/><path class="w" d="M1397.5 174V182"/><path class="g" d="M1397.5 177V180"/><path class="w" d="M1398.5 174V186"/><path class="r" d="M1398.5 178V184"/><path class="w" d="M1399.5 182V188"/><path class="r" d="M1399.5 184V186"/><path class="w" d="M1401.5 181V199"/><path class="r" d="M1401.5 183V193"/><path class="w" d="M1402.5 192V196"/><path class="r" d="M1402.5 193V194"/><path class="w" d="M1404.5 191V205"/><path class="r" d="M1404.5 193V204"/><path class="w" d="M1405.5 201V206"/><path class="g" d="M1405.5 203V204"/><path class="w" d="M1406.5 197V206"/><path class="g" d="M1406.5 199V203"/><path class="w" d="M1408.5 198V202"/><path class="r" d="M1408.5 199V202"/><path class="w" d="M1409.5 198V206"/><path class="r" d="M1409.5 202V205"/><path class="w" d="M1410.5 202V207"/><path class="g" d="M1410.5 204V205"/><path class="w" d="M1412.5 202V218"/><path class="r" d="M1412.5 203V215"/><path class="g" d="M1413.5 210V215"/><path class="w" d="M1414.5 207V225"/><path class="r" d="M1414.5 208V219"/><path class="w" d="M1416.5 205V226"/><path class="g" d="M1416.5 207V220"/><path class="w" d="M1417.5 203V208"/><path class="g" d="M1417.5 205V207"/><path class="w" d="M1419.5 203V211"/><path class="g" d="M1419.5 204V208"/><path class="w" d="M1420.5 202V207"/><path class="r" d="M1420.5 204V206"/><path class="w" d="M1421.5 205V208"/><path class="r" d="M1421.5 206V207"/><path class="w" d="M1423.5 201V207"/><path class="g" d="M1423.5 203V206"/><path class="w" d="M1424.5 193V215"/><path class="g" d="M1424.5 195V205"/><path class="w" d="M1425.5 192V197"/><path class="g" d="M1425.5 193V195"/><path class="w" d="M1427.5 188V206"/><path class="r" d="M1427.5 195V204"/><path class="w" d="M1428.5 193V205"/><path class="g" d="M1428.5 197V204"/><path class="w" d="M1429.5 188V198"/><path class="g" d="M1429.5 190V196"/><path class="w" d="M1431.5 189V194"/><path class="r" d="M1431.5 190V191"/><path class="w" d="M1432.5 178V195"/><path class="g" d="M1432.5 182V191"/><path class="w" d="M1434.5 177V186"/><path class="r" d="M1434.5 182V185"/><path class="w" d="M1435.5 180V185"/><path class="g" d="M1435.5 181V184"/><path class="w" d="M1436.5 180V185"/><path class="r" d="M1436.5 181V182"/><path class="w" d="M1438.5 176V185"/><path class="g" d="M1438.5 179V183"/><path class="w" d="M1439.5 175V181"/><path class="g" d="M1439.5 177V179"/><path class="w" d="M1440.5 174V184"/><path class="r" d="M1440.5 178V182"/><path class="w" d="M1442.5 179V183"/><path class="g" d="M1442.5 180V182"/><path class="w" d="M1443.5 164V182"/><path class="g" d="M1443.5 172V179"/><path class="w" d="M1444.5 170V185"/><path class="r" d="M1444.5 172V181"/><path class="w" d="M1446.5 180V182"/><path class="r" d="M1446.5 181V182"/><path class="w" d="M1447.5 177V194"/><path class="r" d="M1447.5 181V192"/><path class="w" d="M1449.5 186V195"/><path class="g" d="M1449.5 189V192"/><path class="w" d="M1450.5 188V194"/><path class="r" d="M1450.5 190V194"/><path class="w" d="M1451.5 192V196"/><path class="g" d="M1451.5 193V194"/><path class="w" d="M1453.5 183V196"/><path class="g" d="M1453.5 186V194"/><path class="w" d="M1454.5 180V190"/><path class="g" d="M1454.5 182V187"/><path class="w" d="M1455.5 179V183"/><path class="g" d="M1455.5 180V182"/><path class="w" d="M1457.5 179V194"/><path class="r" d="M1457.5 182V190"/><path class="w" d="M1458.5 185V191"/><path class="g" d="M1458.5 188V190"/><path class="w" d="M1460.5 188V195"/><path class="r" d="M1460.5 189V193"/><path class="w" d="M1461.5 177V195"/><path class="g" d="M1461.5 184V193"/><path class="w" d="M1462.5 183V202"/><path class="r" d="M1462.5 184V197"/><path class="w" d="M1464.5 180V201"/><path class="g" d="M1464.5 184V197"/><path class="w" d="M1465.5 166V193"/><path class="g" d="M1465.5 166V185"/><path class="w" d="M1466.5 164V171"/><path class="r" d="M1466.5 166V169"/><path class="w" d="M1468.5 160V169"/><path class="g" d="M1468.5 164V168"/><path class="w" d="M1469.5 161V165"/><path class="g" d="M1469.5 162V164"/><path class="w" d="M1470.5 162V180"/><path class="r" d="M1470.5 164V168"/><path class="w" d="M1472.5 166V170"/><path class="r" d="M1472.5 168V169"/><path class="w" d="M1473.5 158V167"/><path class="g" d="M1473.5 163V166"/><path class="w" d="M1475.5 160V165"/><path class="g" d="M1475.5 161V163"/><path class="w" d="M1476.5 161V172"/><path class="r" d="M1476.5 165V169"/><path class="w" d="M1477.5 165V173"/><path class="r" d="M1477.5 166V171"/><path class="w" d="M1479.5 169V173"/><path class="g" d="M1479.5 169V171"/><path class="w" d="M1480.5 161V174"/><path class="g" d="M1480.5 165V172"/><path class="w" d="M1481.5 164V168"/><path class="r" d="M1481.5 165V167"/><path class="w" d="M1483.5 157V171"/><path class="g" d="M1483.5 159V166"/><path class="w" d="M1484.5 153V161"/><path class="g" d="M1484.5 156V159"/><path class="w" d="M1485.5 143V162"/><path class="g" d="M1485.5 148V159"/><path class="w" d="M1487.5 144V149"/><path class="g" d="M1487.5 146V148"/><path class="w" d="M1488.5 142V159"/><path class="r" d="M1488.5 148V157"/><path class="w" d="M1490.5 155V165"/><path class="r" d="M1490.5 157V161"/><path class="w" d="M1491.5 158V161"/><path class="g" d="M1491.5 159V161"/><path class="w" d="M1492.5 153V167"/><path class="r" d="M1492.5 159V165"/><path class="w" d="M1494.5 163V168"/><path class="r" d="M1494.5 165V167"/><path class="w" d="M1495.5 157V173"/><path class="g" d="M1495.5 159V166"/><path class="w" d="M1496.5 133V171"/><path class="g" d="M1496.5 136V160"/><path class="w" d="M1498.5 134V138"/><path class="r" d="M1498.5 136V137"/><path class="w" d="M1499.5 133V139"/><path class="g" d="M1499.5 134V137"/><path class="w" d="M1500.5 127V139"/><path class="g" d="M1500.5 128V136"/><path class="w" d="M1502.5 100V130"/><path class="g" d="M1502.5 102V128"/><path class="w" d="M1503.5 99V105"/><path class="g" d="M1503.5 101V102"/><path class="w" d="M1505.5 94V107"/><path class="g" d="M1505.5 96V103"/><path class="w" d="M1506.5 93V99"/><path class="r" d="M1506.5 96V98"/><path class="w" d="M1507.5 83V104"/><path class="r" d="M1507.5 97V102"/><path class="w" d="M1509.5 95V119"/><path class="g" d="M1509.5 96V100"/><path class="w" d="M1510.5 96V102"/><path class="r" d="M1510.5 96V98"/><path class="w" d="M1511.5 89V98"/><path class="g" d="M1511.5 91V97"/><path class="w" d="M1513.5 88V94"/><path class="g" d="M1513.5 89V91"/><path class="w" d="M1514.5 85V93"/><path class="g" d="M1514.5 88V92"/><path class="w" d="M1515.5 87V92"/><path class="r" d="M1515.5 88V91"/><path class="w" d="M1517.5 78V91"/><path class="g" d="M1517.5 81V90"/><path class="w" d="M1518.5 70V88"/><path class="g" d="M1518.5 73V82"/><path class="w" d="M1520.5 69V74"/><path class="g" d="M1520.5 71V73"/><path class="w" d="M1521.5 67V86"/><path class="r" d="M1521.5 73V80"/><path class="w" d="M1522.5 77V81"/><path class="g" d="M1522.5 78V80"/><path class="w" d="M1524.5 72V95"/><path class="r" d="M1524.5 79V92"/><path class="w" d="M1525.5 71V98"/><path class="g" d="M1525.5 77V92"/><path class="w" d="M1526.5 74V95"/><path class="g" d="M1526.5 75V77"/><path class="w" d="M1528.5 76V82"/><path class="r" d="M1528.5 77V80"/><path class="w" d="M1529.5 78V83"/><path class="r" d="M1529.5 80V82"/><path class="w" d="M1531.5 76V83"/><path class="g" d="M1531.5 79V82"/><path class="w" d="M1532.5 77V87"/><path class="r" d="M1532.5 78V81"/><path class="w" d="M1533.5 70V84"/><path class="g" d="M1533.5 71V82"/><path class="w" d="M1535.5 70V79"/><path class="r" d="M1535.5 71V75"/><path class="w" d="M1536.5 69V76"/><path class="g" d="M1536.5 70V74"/><path class="w" d="M1537.5 69V73"/><path class="r" d="M1537.5 70V72"/><path class="w" d="M1539.5 58V90"/><path class="g" d="M1539.5 65V71"/><path class="w" d="M1540.5 67V75"/><path class="r" d="M1540.5 70V74"/></g>
<g stroke="#ff0000" stroke-width="3" fill="none" stroke-linecap="butt">
<line x1="1545" y1="81.4" x2="1568" y2="137.7" stroke-dasharray="9 4"/>
<polyline points="1557,127.8 1568,137.7 1569,123" stroke-width="2.4"/>
<line x1="1576" y1="147.7" x2="1589" y2="172" stroke-dasharray="9 4"/>
<polyline points="1577.6,164 1589,172 1588.7,157.6" stroke-width="2.4"/>
<line x1="1592.5" y1="177.5" x2="1601" y2="199.6" stroke-dasharray="9 4"/>
<polyline points="1590,188.6 1601,199.6 1602,184" stroke-width="2.4"/>
<line x1="1605.7" y1="209.6" x2="1618" y2="235.7" stroke-dasharray="9 4"/>
<polyline points="1608,228 1618,235.7 1618,220.6" stroke-width="2.4"/>
</g>
<g font-family="Liberation Sans, sans-serif" fill="#e6e6e6">
<text x="536.3" y="548" font-size="15.5">DL</text>
<text x="1551.4" y="64.6" font-size="15">DH</text>
<text x="1636.5" y="139.6" font-size="12" text-anchor="end" fill="#dddddd">74167.73</text>
<text x="1636.5" y="240.6" font-size="12" text-anchor="end" fill="#dddddd">49368.16</text>
<text x="1636.5" y="349.6" font-size="12" text-anchor="end" fill="#dddddd">31818.34</text>
<text x="1636.5" y="411.6" font-size="12" text-anchor="end" fill="#dddddd">24783.72</text>
</g>
</g>
<g clip-path="url(#c2)">
<polyline points="0,653.5 3.2,636.4 9.8,652.3 12.7,669.4 14.7,667 17.2,675.6 20.8,681.7 23.3,674.3 25.7,673.1 27,669.4 28.7,682.9 30.1,669.4 33.1,673.1 35.5,673.1 39.2,696.4 41.7,689 43.6,687.8 45.3,695.2 47.8,692.7 49.7,696.4 52.7,684.1 56.4,692.7 60,680.5 62.5,679.2 64.9,669.4 68.6,669.4 71.1,682.9 74.7,686.6 76,689 78.9,686.6 82.1,695.2 86.3,703.7 87.7,702.5 91.2,687.8 93.1,689 95.1,690.3 96.8,693.9 100,695.2 102.2,685.9 104.1,703.7 107.8,707.4 110.8,707.4 112.2,710.4 115.2,690.3 117.6,686.6 121.3,697.6 125,653.5 129.4,651.1 133.5,664.5 135.5,664.5 137.7,654.7 142.1,682.9 148.2,686.6 151.9,682.9 154.9,653.5 156.8,650.3 158.8,653.5 163,681.7 167.4,660.9 170.8,675.6 174,673.1 177.7,663.3 180.1,664.5 181.8,658.4 183.8,659.6 185.7,657.2 189.9,648.6 192.4,633.9 196,638.8 198.5,649.8 200.9,648.6 203.4,651.1 205.8,664.5 209,667 211.2,682.9 213.2,687.8 215.6,675.6 217.6,680.5 220.5,675.6 223.5,670.7 226.7,673.1 228.4,680.5 230.3,675.6 232.3,686.6 235.7,674.3 238.2,685.4 240.6,680.5 242.6,684.1 244.5,670.7 247.5,692.7 249.9,702.5 252.4,703.7 255.3,708.6 257.3,696.4 259.3,698.8 261.7,695.2 263.4,697.6 265.9,693.2 268.3,696.4 272.5,692.7 276.4,693.9 280.6,673.1 283,681.7 286.2,681.7 288.7,671.9 291.6,679.2 293.6,680.5 297.7,708.6 302.6,714.3 306.3,718 311.2,705 314.4,700.1 318.5,705.5 321.5,706.2 323,709.9 328.4,693.9 330.1,693.9 332.5,678 337.7,693.9 341.8,680.5 345,670.7 348,656 349.9,654.7 352.9,660.9 356.5,678 359.7,656 362.2,653.5 364.6,662.1 366.3,662.1 368,658.4 370,667 374.4,656 376.1,662.1 378.6,656 381,653.5 385.9,657.2 389.6,664.5 393.3,685.4 397.5,676.8 399.9,692.7 403.8,690.3 405.5,687.3 408,690.3 410,690.3 412,691.5 414.9,699.3 417.8,692.7 419.8,658.4 421.5,652.3 423.5,673.1 425.9,676.3 430.8,680.5 433.3,685.4 437.4,680.5 439.4,684.1 441.4,680 444.3,674.3 448,677.5 450.4,670.7 452.1,662.6 456.1,665.8 459,676.8 461.5,680.5 466.4,673.1 469.3,670.7 471.3,676.1 473.2,675.1 475.2,679.2 477.4,668.2 479.3,671.2 481.1,653.5 483,645.4 486.5,647.4 488.4,654.7 489.9,653 492.1,658.4 494.3,657.9 496.3,641.3 498.2,649.8 499.9,678 502.4,706.9 504.3,681 505.6,692.7 507.3,693.5 509,686.6 511.7,687.8 514.1,687.1 517.3,694.4 521.5,682.4 524.7,683.4 526.4,686.1 530.1,673.6 532.5,675.1 535,672.6 537.9,674.3 539.9,676.1 542.3,669.7 546,670.2 548.4,658.4 550.2,660.9 553.3,676.8 555.3,679.7 557.5,674.8 560.7,675.6 564.9,674.3 568,678.8 571.7,679.2 574.2,674.3 576.6,676.3 579.6,670.7 582.3,665.3 585.9,649.3 588.1,646.2 590.8,605.7 593.3,602.8 595.2,602.1 597.5,621.2 599.9,616.8 601.6,610.6 604.1,606.5 608,609.4 610.9,605.7 613.4,629 615.8,623.6 618.3,620.4 620.7,638.8 624.4,636.4 626.4,642.5 628.8,658.4 630.5,658.9 632.5,663.3 635.4,633.9 638.4,632.7 641.3,631 643.5,638.8 645.7,649.3 647.2,647.9 650.1,654.7 652.6,658.4 655.8,656 658.7,673.1 662.4,678 664.1,678.8 666.6,700.6 668.5,676.8 670.5,647.4 672.2,643.7 674.2,651.1 675.9,645.7 677.6,628.5 679.1,632.7 680.8,631.5 683.2,646.2 685.2,637.6 689.3,650.3 693.5,642.5 696,646.2 699.1,645.7 701.6,644.4 704.8,647.4 707,644.9 710.2,631.5 712.6,635.1 715.1,632.7 718,644.9 720,640 722.4,658.4 724.9,668.2 727.3,671.4 730.5,667 733.5,648.6 735.4,652.3 737.6,668.2 739.6,662.1 741.3,664.5 743.3,658.9 744.7,658.4 746.4,673.8 748.9,670.7 750.6,671.2 752.6,678.5 754.8,677.3 756.5,671.9 758,676.1 759.9,671.9 762.1,677.5 765.3,675.1 767.3,671.9 769.5,681.7 771.4,678 773.4,664.5 777.1,660.4 779.3,671.9 781.2,673.8 782.9,668.7 785.4,685.4 786.6,667 788.6,673.8 790.3,672.6 793.5,679.2 795.9,680.5 798.4,679.2 800.1,684.6 802.6,666.3 804.5,665.8 807.5,634.4 810.6,633.4 811.9,631.9 813.8,635.1 815.5,632.2 817.3,641.3 819.7,638.1 822,637.1 823.7,633.4 826.1,642.5 829.3,648.1 831,648.1 832.7,642.5 836.7,651.1 838.9,637.6 840.8,658.4 844,664 847,660.4 848.7,664 850.1,660.4 851.9,672.6 855.5,668.7 858,672.4 860.4,671.2 862.1,672.4 864.1,670.2 865.8,672.1 867.3,669.4 869.7,673.6 871.5,672.6 872.7,657.2 874.9,666.5 878.3,666.5 881.3,669.4 884.4,673.1 886.2,691.5 888.6,711.6 890.6,711.6 892.3,713.5 893.5,694.4 895.2,700.6 897.2,698.8 899.1,699.6 901.4,667 902.8,672.6 905.3,685.4 908.2,687.8 911.9,690.3 913.8,689.8 916.1,686.1 918.5,696.4 920.5,678 922.4,676.3 924.6,667.7 926.6,670.7 930.8,660.4 934.7,669.9 938.8,675.1 941.3,675.1 943.7,658.4 945.5,658.4 947.4,645.4 949.4,657.2 951.1,653 953.1,655.2 955.3,650.6 957.2,654.7 960.2,670.7 962.1,672.6 964.1,665.8 966.3,645.7 968.2,644.4 970.7,649.3 973.1,638.8 976.1,621.7 979.3,606.2 981.7,617.5 983.4,616 986.1,617.5 989.1,616.8 992.3,614.8 995.2,614.3 997.7,611.9 999.6,611.1 1002.6,604 1004.5,611.9 1006.7,639.5 1008.7,625.3 1010.4,644.4 1012.4,639.5 1014.3,635.1 1016.5,642.5 1018.5,637.6 1020.4,641.3 1021.7,638.8 1023.4,649.3 1025.3,638.8 1027.5,645.4 1029.5,645.4 1032,631.5 1033.9,621.7 1035.6,616.3 1037.6,616.8 1039.8,623.6 1041.3,620.4 1043.5,649.3 1045.9,639.5 1048.4,639.5 1050.3,646.2 1052.3,648.6 1054.5,646.2 1056.5,640 1058.4,637.6 1060.9,640.5 1062.6,641.3 1064.5,654.2 1066.3,645.7 1067.5,654.2 1069.9,654.2 1071.7,646.2 1073.6,640.5 1075.3,658.4 1077.3,649.8 1079,649.3 1081.5,636.4 1083.4,637.6 1085.1,641.3 1087.1,641.3 1088.3,670.7 1092,665.3 1094,668.9 1096.2,680.5 1098.1,674.3 1100.1,682.2 1102.3,687.8 1104.2,684.9 1106.2,682.2 1109.1,659.6 1111.1,656.7 1113.3,662.6 1116.5,661.6 1119.4,665.3 1122.6,656 1125.1,644.9 1127.5,632.7 1129.5,624.8 1130.5,632.2 1132.4,624.6 1138.5,624.6 1140.3,622.9 1142.2,634.4 1144.2,629.7 1146.4,632.7 1149.6,616.8 1152.8,605.2 1155,603.3 1157.4,596.7 1159.4,632.7 1161.1,623.6 1163.5,621.2 1167.5,615.5 1169.7,618.7 1171.6,615.5 1173.3,635.1 1175.8,644.9 1178.2,655.5 1180.2,652.3 1182.7,653 1184.4,651.1 1186.3,638.3 1188.8,644.4 1190.7,648.1 1192.5,642.5 1194.4,641.3 1196.9,662.8 1199.3,663.8 1201.5,654.2 1203.5,652.3 1205.4,644.4 1207.7,656 1209.6,652.3 1211.3,651.1 1213.8,674.3 1216.5,677.5 1218.2,683.7 1220.1,674.3 1223.6,662.6 1226,662.6 1228,672.6 1229.7,669.4 1233.7,674.3 1236.1,687.8 1238.1,693.5 1241,665.8 1243.5,668.2 1245.4,668.7 1247.6,671.2 1249.6,670.7 1251.6,674.3 1253.8,666.3 1255.2,673.1 1257.4,656.7 1259.4,659.1 1262.3,644.9 1264.3,646.7 1266.3,646.2 1268.5,657.2 1270.4,652.8 1272.4,651.6 1274.6,654.7 1276.6,660.1 1278.5,654.2 1280.2,659.1 1283.4,647.9 1285.6,645.7 1288.8,652.8 1291.3,656.7 1293.7,667 1294.9,666.5 1296.9,671.4 1299.1,671.9 1301.1,670.7 1303.5,682.2 1306,678.8 1308.4,683.7 1310.4,702 1312.1,684.6 1314,687.8 1317,684.1 1320.2,674.3 1322.6,682.9 1325.6,695.2 1327.5,698.8 1329.5,700.6 1331.7,691 1333.4,692.2 1335.4,692.2 1337.3,673.1 1339.5,655.5 1341.5,650.6 1343.5,654.7 1345.2,658.9 1346.6,644.2 1348.4,642.5 1350.1,656 1352,655.5 1354.2,660.1 1356.2,647.4 1358.2,651.1 1360.4,658.4 1362.3,662.1 1364.3,670.7 1366.5,687.3 1368.4,699.3 1369.7,685.4 1371.4,690.3 1373.3,674.3 1375.3,672.4 1377.8,674.3 1380,668.2 1381.9,674.3 1383.9,679.2 1386.1,670.7 1388.5,671.9 1390.5,662.8 1392.2,667 1394.7,654.2 1396.6,658.4 1398.6,663.3 1400.8,673.1 1402.8,672.6 1405.2,674.3 1407.7,675.1 1410.6,676.8 1413.3,689 1415.5,676.8 1417.5,671.9 1419.4,673.1 1423.6,662.1 1425.3,671.2 1427.3,663.3 1429.2,660.4 1431.4,649.8 1434.6,649.3 1436.6,645.7 1438.3,652.3 1440.2,645.7 1442.4,641.3 1444.4,656 1448.1,671.9 1450.5,667 1452.2,660.4 1454.2,656.7 1456.7,666.3 1459.4,674.3 1461.6,658.4 1463.3,648.6 1465.2,644.9 1467.2,643.2 1469.4,647.4 1471.4,641.7 1473.8,645.7 1475,645.7 1476.8,653 1478.7,646.2 1480.4,648.6 1482.4,640.8 1484.3,633.2 1486.6,637.6 1488.5,648.6 1490.5,654.7 1492.7,662.1 1494.6,651.1 1496.6,632.7 1498.3,630.2 1500.3,623.6 1501.5,614.3 1503.2,611.4 1505.7,611.4 1507.4,622.1 1509.3,618.7 1513,615 1515.5,611.9 1517.4,608.2 1519.1,613.8 1520.9,629 1522.3,640.5 1524.5,631 1526.5,636.4 1528.2,632.7 1530.7,638.3 1532.6,638.3 1534.6,631.5 1536.8,631 1538.7,627.3 1540.7,641.3" fill="none" stroke="#a8a8a8" stroke-width="1"/>
<g stroke="#e4e4e4" stroke-width="1.3">
<line x1="292" y1="719.7" x2="517.8" y2="707.4"/>
<line x1="596.2" y1="600.3" x2="839.6" y2="634.4"/>
<line x1="1147" y1="595.2" x2="1527.7" y2="610.6"/>
</g></g>
<g clip-path="url(#c3)">
<path d="M0 841 L0 844.9 L1.4 843.8 L2.7 842.8 L4.1 842.4 L5.5 843.2 L6.8 843.8 L8.2 845.1 L9.6 846.8 L10.9 848.3 L12.3 850 L13.7 851.6 L15 852.9 L16.4 853.8 L17.7 854.2 L19.1 854.6 L20.5 854.8 L21.8 854.3 L23.2 853.7 L24.6 853.1 L25.9 852.3 L27.3 851.7 L28.7 851.2 L30 850.7 L31.4 850 L32.8 849.3 L34.1 848.6 L35.5 848 L36.9 850 L38.2 851.8 L39.6 853 L41 853.5 L42.3 854 L43.7 854.4 L45.1 854.5 L46.4 854.5 L47.8 854.5 L49.2 854.4 L50.5 853.3 L51.9 852.5 L53.2 850.5 L54.6 848.9 L56 848.4 L57.3 848 L58.7 846.3 L60.1 844.6 L61.4 842.9 L62.8 840.1 L64.2 837.7 L65.5 836 L66.9 835.2 L68.3 834.6 L69.6 835.2 L71 836.3 L72.4 837.2 L73.7 838.8 L75.1 840.1 L76.5 840.9 L77.8 841.1 L79.2 841.2 L80.6 842.2 L81.9 843.4 L83.3 844.4 L84.6 845.3 L86 846.1 L87.4 846.8 L88.7 846 L90.1 845 L91.5 844.1 L92.8 843.4 L94.2 842.7 L95.6 842.2 L96.9 841.7 L98.3 841.4 L99.7 841.2 L101 841 L102.4 841.7 L103.8 843.2 L105.1 844.4 L106.5 845.7 L107.9 847 L109.2 847.9 L110.6 848.2 L112 848.4 L113.3 847.5 L114.7 845.2 L116.1 843.2 L117.4 842.1 L118.8 841.2 L120.1 840.5 L121.5 838.2 L122.9 835.5 L124.2 832.4 L125.6 828.2 L127 824.7 L128.3 823.1 L129.7 822.3 L131.1 821.6 L132.4 823.5 L133.8 825.2 L135.2 826.5 L136.5 827 L137.9 827.5 L139.3 829.2 L140.6 833 L142 837.3 L143.4 840.3 L144.7 842.3 L146.1 844.1 L147.5 844.9 L148.8 845.5 L150.2 845.9 L151.5 845.7 L152.9 844.8 L154.3 841.4 L155.6 838.4 L157 835.5 L158.4 833 L159.7 834 L161.1 836.2 L162.5 838.4 L163.8 840.6 L165.2 841.4 L166.6 840.6 L167.9 840 L169.3 840.8 L170.7 841.5 L172 841.9 L173.4 842.2 L174.8 842.1 L176.1 841.2 L177.5 840.4 L178.9 839.7 L180.2 838.4 L181.6 837.2 L183 836.2 L184.3 835.2 L185.7 834.4 L187 833.6 L188.4 832.9 L189.8 832.4 L191.1 830.3 L192.5 828.5 L193.9 827.3 L195.2 827.7 L196.6 828.1 L198 829.8 L199.3 831.5 L200.7 832.9 L202.1 834.2 L203.4 836.5 L204.8 838.5 L206.2 840.6 L207.5 843.4 L208.9 845.7 L210.3 847.7 L211.6 849.4 L213 850.9 L214.4 850.8 L215.7 850.5 L217.1 850.1 L218.4 849.1 L219.8 848.3 L221.2 848.1 L222.5 848.6 L223.9 849 L225.3 848.8 L226.6 848.5 L228 848.3 L229.4 848 L230.7 847.9 L232.1 847.7 L233.5 847.6 L234.8 847.2 L236.2 846.6 L237.6 846.2 L238.9 846.3 L240.3 846.4 L241.7 846.3 L243 845.3 L244.4 844.5 L245.8 845.6 L247.1 848 L248.5 850 L249.8 852.7 L251.2 855.2 L252.6 857.2 L253.9 858.3 L255.3 859.2 L256.7 859.2 L258 858.4 L259.4 857.8 L260.8 856.4 L262.1 855 L263.5 853.8 L264.9 851.4 L266.2 849.5 L267.6 847.8 L269 846.3 L270.3 844.9 L271.7 843.7 L273.1 842.8 L274.4 841.3 L275.8 839.9 L277.2 838.4 L278.5 835.9 L279.9 833.7 L281.3 832.4 L282.6 832 L284 831.5 L285.3 830.9 L286.7 830.3 L288.1 829.9 L289.4 829.8 L290.8 830.2 L292.2 831.3 L293.5 832.8 L294.9 836.7 L296.3 840 L297.6 845.5 L299 850.6 L300.4 854.8 L301.7 857.8 L303.1 860.3 L304.5 861.9 L305.8 862.6 L307.2 863.3 L308.6 862.3 L309.9 861.1 L311.3 859.8 L312.7 855.8 L314 852.4 L315.4 849.8 L316.7 848.1 L318.1 846.7 L319.5 845.7 L320.8 845 L322.2 844.4 L323.6 843.1 L324.9 842 L326.3 840.6 L327.7 838.4 L329 836.4 L330.4 833.9 L331.8 831.1 L333.1 828.7 L334.5 829.1 L335.9 829.8 L337.2 830.4 L338.6 831.6 L340 832.5 L341.3 830.8 L342.7 828.9 L344.1 826.1 L345.4 823.3 L346.8 821 L348.2 820.1 L349.5 819.4 L350.9 819.3 L352.2 820.2 L353.6 821 L355 823.5 L356.3 826.4 L357.7 826.8 L359.1 826.8 L360.4 826.8 L361.8 827 L363.2 827.1 L364.5 828.2 L365.9 830.1 L367.3 831.8 L368.6 832.8 L370 833.7 L371.4 834.3 L372.7 834.2 L374.1 834 L375.5 833.9 L376.8 833.8 L378.2 833.7 L379.6 834.1 L380.9 834.6 L382.3 835 L383.6 836.1 L385 837 L386.4 837.9 L387.7 839.2 L389.1 840.2 L390.5 842.3 L391.8 844.8 L393.2 847 L394.6 848.4 L395.9 849.6 L397.3 850.7 L398.7 851.5 L400 852.3 L401.4 852.5 L402.8 852.3 L404.1 852.1 L405.5 851.7 L406.9 851.2 L408.2 850.8 L409.6 850.4 L411 850.2 L412.3 850.2 L413.7 850.2 L415.1 849.2 L416.4 848.3 L417.8 847.5 L419.1 841 L420.5 837.2 L421.9 835.8 L423.2 836.3 L424.6 837.4 L426 838.3 L427.3 839.3 L428.7 840 L430.1 840.7 L431.4 841.3 L432.8 841.7 L434.2 842 L435.5 842.3 L436.9 842.2 L438.3 842 L439.6 841.9 L441 841.6 L442.4 841 L443.7 840.4 L445.1 839.9 L446.5 839.5 L447.8 838.6 L449.2 837.6 L450.5 836.8 L451.9 836.1 L453.3 835.7 L454.6 835.3 L456 835 L457.4 835.8 L458.7 837.2 L460.1 838.3 L461.5 839.3 L462.8 839.3 L464.2 839.2 L465.6 839.2 L466.9 839.1 L468.3 838.9 L469.7 838.8 L471 838.6 L472.4 838.8 L473.8 839 L475.1 839.2 L476.5 839.3 L477.9 838.9 L479.2 838.7 L480.6 838.4 L482 837.2 L483.3 835.6 L484.7 834.3 L486 834.4 L487.4 834.6 L488.8 835 L490.1 835.9 L491.5 836.7 L492.9 836.6 L494.2 835.9 L495.6 835.4 L497 836.1 L498.3 837.1 L499.7 841.6 L501.1 846.9 L502.4 852.2 L503.8 854.7 L505.2 856.5 L506.5 857 L507.9 856.9 L509.3 856.8 L510.6 856 L512 855.3 L513.4 854.5 L514.7 853.5 L516.1 852.6 L517.4 851.5 L518.8 850.3 L520.2 849.3 L521.5 847.5 L522.9 845.9 L524.3 844.5 L525.6 842.9 L527 841.6 L528.4 840.2 L529.7 838.6 L531.1 837.2 L532.5 836.5 L533.8 835.9 L535.2 835.4 L536.6 834.9 L537.9 834.6 L539.3 834.4 L540.7 834.1 L542 834 L543.4 834 L544.8 833.9 L546.1 833.8 L547.5 833.1 L548.9 832.5 L550.2 832.1 L551.6 833.7 L552.9 835.1 L554.3 836.6 L555.7 838 L557 839.2 L558.4 839.7 L559.8 840 L561.1 840.4 L562.5 840.5 L563.9 840.6 L565.2 840.6 L566.6 840.6 L568 840.6 L569.3 840.7 L570.7 840.6 L572.1 840.6 L573.4 840.6 L574.8 840.6 L576.2 840.6 L577.5 840.3 L578.9 840 L580.3 839.8 L581.6 839.5 L583 838.9 L584.3 838.3 L585.7 837.8 L587.1 837 L588.4 835.8 L589.8 834.8 L591.2 827.4 L592.5 821.3 L593.9 819.9 L595.3 819.1 L596.6 820.1 L598 821.1 L599.4 822.4 L600.7 822.4 L602.1 821.7 L603.5 822.5 L604.8 823.6 L606.2 824.6 L607.6 826.5 L608.9 828.1 L610.3 829.5 L611.7 831.5 L613 834.1 L614.4 836.3 L615.8 837.3 L617.1 838 L618.5 838.8 L619.8 840.7 L621.2 842.3 L622.6 843.8 L623.9 845.3 L625.3 846.6 L626.7 848 L628 849.3 L629.4 850.3 L630.8 851 L632.1 851.6 L633.5 852 L634.9 850.5 L636.2 847.3 L637.6 844.7 L639 843.3 L640.3 842.2 L641.7 841.3 L643.1 842.2 L644.4 843 L645.8 843.7 L647.2 844.6 L648.5 845.4 L649.9 846.1 L651.2 846.7 L652.6 847.3 L654 847.9 L655.3 848.4 L656.7 848.8 L658.1 849.2 L659.4 849.5 L660.8 850 L662.2 850.6 L663.5 851.1 L664.9 851.6 L666.3 851.7 L667.6 850.2 L669 848.8 L670.4 847.3 L671.7 844.5 L673.1 841.1 L674.5 836.9 L675.8 832.8 L677.2 829.4 L678.6 826.8 L679.9 825.8 L681.3 825.6 L682.6 826.5 L684 827.3 L685.4 828.4 L686.7 829.7 L688.1 831.5 L689.5 833.7 L690.8 835.4 L692.2 835.9 L693.6 836.3 L694.9 837.5 L696.3 838.7 L697.7 839.8 L699 840.6 L700.4 841.4 L701.8 842 L703.1 842.6 L704.5 843.1 L705.9 843.6 L707.2 843.1 L708.6 842 L710 841.1 L711.3 840.7 L712.7 840.5 L714.1 840.3 L715.4 840.2 L716.8 840.5 L718.1 840.8 L719.5 841.5 L720.9 843.8 L722.2 845.8 L723.6 847.4 L725 848.8 L726.3 849.8 L727.7 850 L729.1 850.2 L730.4 850.3 L731.8 850.3 L733.2 848.8 L734.5 846.8 L735.9 846.3 L737.3 846.1 L738.6 845.9 L740 846 L741.4 846.1 L742.7 845.7 L744.1 844.9 L745.5 844.3 L746.8 844.9 L748.2 845.7 L749.5 846.4 L750.9 846.7 L752.3 847 L753.6 847.1 L755 846.9 L756.4 846.8 L757.7 846.7 L759.1 846.7 L760.5 846.8 L761.8 846.8 L763.2 846.1 L764.6 845.6 L765.9 845.3 L767.3 845.2 L768.7 845.1 L770 845 L771.4 844.9 L772.8 843.6 L774.1 841.9 L775.5 840.7 L776.9 840.4 L778.2 840.1 L779.6 840.1 L781 840.4 L782.3 840.7 L783.7 841.3 L785 841.9 L786.4 842.2 L787.8 841.9 L789.1 841.6 L790.5 841.7 L791.9 842.1 L793.2 842.5 L794.6 842.8 L796 843.1 L797.3 843.3 L798.7 843.3 L800.1 843.4 L801.4 843 L802.8 842.2 L804.2 841.4 L805.5 839.5 L806.9 837.4 L808.3 833.4 L809.6 830.1 L811 828.3 L812.4 827.2 L813.7 827.4 L815.1 827.5 L816.4 828.1 L817.8 828.9 L819.2 829.5 L820.5 830.6 L821.9 831.5 L823.3 832.3 L824.6 833.8 L826 835.5 L827.4 836.9 L828.7 838.1 L830.1 839 L831.5 839.8 L832.8 840.4 L834.2 840.8 L835.6 841.1 L836.9 841.3 L838.3 841.5 L839.7 842.4 L841 843.2 L842.4 844 L843.8 844.6 L845.1 845.1 L846.5 845.5 L847.9 845.9 L849.2 846.4 L850.6 846.8 L851.9 847.2 L853.3 847.5 L854.7 847.2 L856 847 L857.4 846.8 L858.8 846.5 L860.1 846.1 L861.5 845.8 L862.9 845.6 L864.2 845 L865.6 844.5 L867 844 L868.3 843.7 L869.7 843.3 L871.1 843 L872.4 842.8 L873.8 842.5 L875.2 842.3 L876.5 842.2 L877.9 842.1 L879.3 842 L880.6 841.9 L882 841.9 L883.3 841.8 L884.7 842.8 L886.1 844 L887.4 845.7 L888.8 847.7 L890.2 849.2 L891.5 849.9 L892.9 850.5 L894.3 850.5 L895.6 850.1 L897 849.7 L898.4 848.7 L899.7 847.7 L901.1 845.1 L902.5 843 L903.8 841.9 L905.2 842.1 L906.6 842.3 L907.9 842.5 L909.3 842.7 L910.7 842.9 L912 842.9 L913.4 842.7 L914.8 842.4 L916.1 842.2 L917.5 842.2 L918.8 842.4 L920.2 841.3 L921.6 840 L922.9 838.8 L924.3 837.8 L925.7 836.9 L927 836.2 L928.4 835.7 L929.8 835.5 L931.1 835.4 L932.5 835.2 L933.9 835.8 L935.2 836.4 L936.6 836.9 L938 837.4 L939.3 837.7 L940.7 838 L942.1 838.3 L943.4 838 L944.8 837.5 L946.2 837 L947.5 836.6 L948.9 836.4 L950.2 836.2 L951.6 836.1 L953 836 L954.3 835.9 L955.7 835.8 L957.1 836.2 L958.4 837.6 L959.8 838.9 L961.2 839.9 L962.5 840.5 L963.9 841 L965.3 839.6 L966.6 838 L968 837.5 L969.4 837.2 L970.7 837 L972.1 836.8 L973.5 835.7 L974.8 834.8 L976.2 832.5 L977.6 828.5 L978.9 825.6 L980.3 823.2 L981.7 823.3 L983 823.7 L984.4 824.7 L985.7 826.2 L987.1 827.7 L988.5 829.4 L989.8 830.8 L991.2 832.1 L992.6 833.5 L993.9 834.8 L995.3 835.9 L996.7 836.8 L998 837.7 L999.4 838.4 L1000.8 839 L1002.1 839.3 L1003.5 839.3 L1004.9 840.9 L1006.2 842.7 L1007.6 843 L1009 843.3 L1010.3 843.5 L1011.7 843.7 L1013.1 843.9 L1014.4 844 L1015.8 844.2 L1017.1 844.3 L1018.5 844.4 L1019.9 844.4 L1021.2 844.6 L1022.6 845.1 L1024 845.5 L1025.3 845.5 L1026.7 845.4 L1028.1 845.2 L1029.4 845.1 L1030.8 843.8 L1032.2 842.2 L1033.5 839.1 L1034.9 836.5 L1036.3 834.3 L1037.6 833.7 L1039 834.2 L1040.4 834.5 L1041.7 834.6 L1043.1 838.6 L1044.5 841.7 L1045.8 842.4 L1047.2 842.9 L1048.6 843.4 L1049.9 843.8 L1051.3 844.2 L1052.6 844.5 L1054 844.7 L1055.4 844.9 L1056.7 844.5 L1058.1 844.1 L1059.5 844 L1060.8 844.1 L1062.2 844.3 L1063.6 844.8 L1064.9 845.4 L1066.3 845.9 L1067.7 845.9 L1069 846 L1070.4 845.9 L1071.8 845.7 L1073.1 845.6 L1074.5 845.2 L1075.9 844.8 L1077.2 844.5 L1078.6 843.6 L1080 842.8 L1081.3 842 L1082.7 840.7 L1084 839.5 L1085.4 839.4 L1086.8 839.9 L1088.1 842.1 L1089.5 844.6 L1090.9 846 L1092.2 847.2 L1093.6 848.2 L1095 849.1 L1096.3 849.8 L1097.7 850.4 L1099.1 850.9 L1100.4 851.4 L1101.8 851.8 L1103.2 852.1 L1104.5 852.1 L1105.9 851.2 L1107.3 850.5 L1108.6 848.5 L1110 845.6 L1111.4 843.6 L1112.7 842.1 L1114.1 840.8 L1115.5 840.4 L1116.8 840.1 L1118.2 839.9 L1119.5 839.9 L1120.9 840 L1122.3 839.1 L1123.6 837.9 L1125 835.6 L1126.4 833.5 L1127.7 830.5 L1129.1 828.2 L1130.5 826.6 L1131.8 825.9 L1133.2 825.8 L1134.6 826.3 L1135.9 826.9 L1137.3 827.5 L1138.7 829 L1140 830.2 L1141.4 831.6 L1142.8 833.6 L1144.1 835.2 L1145.5 836 L1146.9 836.1 L1148.2 834.9 L1149.6 833.5 L1150.9 831.7 L1152.3 830.1 L1153.7 828.2 L1155 826.7 L1156.4 825.3 L1157.8 826 L1159.1 827.7 L1160.5 828.6 L1161.9 829.3 L1163.2 829.9 L1164.6 830.2 L1166 830.5 L1167.3 831.3 L1168.7 832.5 L1170.1 833.5 L1171.4 834 L1172.8 835.7 L1174.2 838.8 L1175.5 843.8 L1176.9 847.5 L1178.3 849.5 L1179.6 851 L1181 852.2 L1182.3 853.2 L1183.7 853.8 L1185.1 854.2 L1186.4 851.7 L1187.8 849.9 L1189.2 849.9 L1190.5 850 L1191.9 849.4 L1193.3 848.1 L1194.6 848.4 L1196 849.3 L1197.4 850.3 L1198.7 851.2 L1200.1 851.1 L1201.5 850.7 L1202.8 849.5 L1204.2 848.8 L1205.6 848.4 L1206.9 847.4 L1208.3 846.2 L1209.7 846.8 L1211 847.5 L1212.4 848.5 L1213.8 849.7 L1215.1 851.3 L1216.5 852.9 L1217.8 854.6 L1219.2 854.3 L1220.6 853.5 L1221.9 852.7 L1223.3 851.3 L1224.7 850 L1226 848.9 L1227.4 847.9 L1228.8 846.9 L1230.1 846.1 L1231.5 846.1 L1232.9 846.1 L1234.2 847 L1235.6 849 L1237 850.2 L1238.3 850.8 L1239.7 850.6 L1241.1 848.3 L1242.4 846.3 L1243.8 844.7 L1245.2 843.5 L1246.5 842.6 L1247.9 841.8 L1249.2 841.3 L1250.6 841.1 L1252 840.9 L1253.3 840.7 L1254.7 839.8 L1256.1 839.1 L1257.4 838.1 L1258.8 836.6 L1260.2 835.2 L1261.5 833.4 L1262.9 831.8 L1264.3 831.2 L1265.6 830.7 L1267 830.6 L1268.4 831.5 L1269.7 832.4 L1271.1 833.1 L1272.5 834.1 L1273.8 835.3 L1275.2 836.4 L1276.6 837.2 L1277.9 837.8 L1279.3 838.3 L1280.7 838.7 L1282 838.7 L1283.4 838.3 L1284.7 838 L1286.1 837.7 L1287.5 838.3 L1288.8 839.1 L1290.2 839.9 L1291.6 841.2 L1292.9 842.3 L1294.3 843.3 L1295.7 844.1 L1297 844.8 L1298.4 845.4 L1299.8 845.9 L1301.1 846.4 L1302.5 847.5 L1303.9 848.5 L1305.2 849.2 L1306.6 849.7 L1308 850.1 L1309.3 850.2 L1310.7 850.2 L1312.1 850.2 L1313.4 849.8 L1314.8 849.4 L1316.1 848.8 L1317.5 847.6 L1318.9 846.6 L1320.2 846.4 L1321.6 846.6 L1323 846.8 L1324.3 847.2 L1325.7 847.6 L1327.1 847.8 L1328.4 847.8 L1329.8 847.8 L1331.2 847.4 L1332.5 846.7 L1333.9 846 L1335.3 844.7 L1336.6 843.4 L1338 841 L1339.4 838.3 L1340.7 836 L1342.1 834 L1343.5 832.4 L1344.8 830.5 L1346.2 828.6 L1347.6 827 L1348.9 827.8 L1350.3 828.6 L1351.6 829.3 L1353 829.9 L1354.4 830.4 L1355.7 831.3 L1357.1 832.3 L1358.5 833.3 L1359.8 835 L1361.2 836.7 L1362.6 838.3 L1363.9 840.7 L1365.3 843.7 L1366.7 847.7 L1368 850.9 L1369.4 853.5 L1370.8 853.5 L1372.1 853 L1373.5 850.9 L1374.9 849.1 L1376.2 847.6 L1377.6 846.2 L1379 845 L1380.3 844.5 L1381.7 844.4 L1383 844.3 L1384.4 843.2 L1385.8 842.3 L1387.1 841.3 L1388.5 840.1 L1389.9 839.1 L1391.2 837.9 L1392.6 836.7 L1394 835.6 L1395.3 835.2 L1396.7 834.9 L1398.1 835 L1399.4 836.8 L1400.8 838.4 L1402.2 839.6 L1403.5 840.6 L1404.9 841.4 L1406.3 842 L1407.6 842.4 L1409 842.8 L1410.4 844.3 L1411.7 845.6 L1413.1 846.2 L1414.5 846 L1415.8 845.3 L1417.2 844.2 L1418.5 843.4 L1419.9 842.1 L1421.3 840.9 L1422.6 839.9 L1424 839.2 L1425.4 838.5 L1426.7 837.6 L1428.1 836.6 L1429.5 835.7 L1430.8 834.6 L1432.2 833.7 L1433.6 832.8 L1434.9 832.3 L1436.3 831.8 L1437.7 831.6 L1439 831.7 L1440.4 831.8 L1441.8 832.5 L1443.1 833.3 L1444.5 834.9 L1445.9 836.9 L1447.2 838.6 L1448.6 840.1 L1449.9 841.4 L1451.3 841.7 L1452.7 841.5 L1454 841.3 L1455.4 842.2 L1456.8 843.2 L1458.1 843.9 L1459.5 843.9 L1460.9 843.9 L1462.2 841.7 L1463.6 839.8 L1465 838.4 L1466.3 837.2 L1467.7 836.2 L1469.1 835.6 L1470.4 835.1 L1471.8 835 L1473.2 835.4 L1474.5 835.8 L1475.9 836.5 L1477.3 837.4 L1478.6 838.2 L1480 837.9 L1481.4 837.6 L1482.7 837.3 L1484.1 837.1 L1485.4 836.9 L1486.8 837.3 L1488.2 838.1 L1489.5 838.8 L1490.9 840.3 L1492.3 841.7 L1493.6 842.4 L1495 840.4 L1496.4 837.9 L1497.7 834.3 L1499.1 831.3 L1500.5 828.7 L1501.8 826.5 L1503.2 824.6 L1504.6 824.7 L1505.9 825 L1507.3 826.1 L1508.7 827 L1510 827.9 L1511.4 828.9 L1512.8 829.7 L1514.1 830.4 L1515.5 831 L1516.8 831.5 L1518.2 832.1 L1519.6 834 L1520.9 838.5 L1522.3 840.8 L1523.7 841.2 L1525 841.5 L1526.4 842.7 L1527.8 843.8 L1529.1 844.7 L1530.5 845.1 L1531.9 845.4 L1533.2 845.5 L1534.6 845.5 L1536 845.4 L1537.3 845.1 L1538.7 844.7 L1540.1 845.6 L1540.1 841 Z" fill="#343434" stroke="none"/>
<polyline points="0,802.7 1.4,803.2 2.7,803.5 4.1,803.7 5.5,804.1 6.8,804.6 8.2,805.3 9.6,806.4 10.9,807.6 12.3,809.2 13.7,811.1 15,813.2 16.4,815.5 17.7,817.8 19.1,820.2 20.5,822.6 21.8,825 23.2,827.2 24.6,829.4 25.9,831.4 27.3,833.2 28.7,835 30,836.7 31.4,838.3 32.8,839.8 34.1,841.1 35.5,842.4 36.9,844 38.2,845.9 39.6,848 41,850.2 42.3,852.5 43.7,854.9 45.1,857.2 46.4,859.6 47.8,862 49.2,864.4 50.5,866.5 51.9,868.6 53.2,870.2 54.6,871.6 56,872.9 57.3,874.1 58.7,875.1 60.1,875.7 61.4,876.1 62.8,875.9 64.2,875.3 65.5,874.4 66.9,873.4 68.3,872.3 69.6,871.3 71,870.4 72.4,869.7 73.7,869.3 75.1,869.2 76.5,869.2 77.8,869.2 79.2,869.2 80.6,869.4 81.9,869.9 83.3,870.5 84.6,871.2 86,872.1 87.4,873.2 88.7,874 90.1,874.8 91.5,875.3 92.8,875.7 94.2,876 95.6,876.2 96.9,876.4 98.3,876.5 99.7,876.5 101,876.5 102.4,876.6 103.8,877 105.1,877.6 106.5,878.4 107.9,879.5 109.2,880.7 110.6,882 112,883.3 113.3,884.4 114.7,885.2 116.1,885.6 117.4,885.8 118.8,885.8 120.1,885.7 121.5,885.2 122.9,884.2 124.2,882.7 125.6,880.5 127,877.6 128.3,874.4 129.7,871.1 131.1,867.7 132.4,864.6 133.8,861.8 135.2,859.3 136.5,856.8 137.9,854.4 139.3,852.3 140.6,850.9 142,850.3 143.4,850.1 144.7,850.4 146.1,850.9 147.5,851.6 148.8,852.4 150.2,853.3 151.5,854.1 152.9,854.8 154.3,854.8 155.6,854.4 157,853.4 158.4,852 159.7,850.7 161.1,849.9 162.5,849.5 163.8,849.4 165.2,849.4 166.6,849.4 167.9,849.2 169.3,849.2 170.7,849.3 172,849.4 173.4,849.6 174.8,849.8 176.1,849.9 177.5,849.8 178.9,849.5 180.2,849.1 181.6,848.4 183,847.5 184.3,846.5 185.7,845.4 187,844 188.4,842.6 189.8,841.1 191.1,839.2 192.5,837 193.9,834.6 195.2,832.2 196.6,830 198,828 199.3,826.3 200.7,824.9 202.1,823.7 203.4,822.9 204.8,822.5 206.2,822.4 207.5,822.8 208.9,823.7 210.3,824.8 211.6,826.3 213,828.1 214.4,829.8 215.7,831.5 217.1,833.1 218.4,834.5 219.8,835.8 221.2,837.1 222.5,838.4 223.9,839.8 225.3,841.2 226.6,842.5 228,843.8 229.4,845 230.7,846.2 232.1,847.4 233.5,848.6 234.8,849.7 236.2,850.7 237.6,851.6 238.9,852.5 240.3,853.5 241.7,854.4 243,855.2 244.4,855.8 245.8,856.6 247.1,857.8 248.5,859.4 249.8,861.5 251.2,864 252.6,866.9 253.9,869.9 255.3,873.1 256.7,876.3 258,879.4 259.4,882.4 260.8,885.1 262.1,887.6 263.5,889.8 264.9,891.7 266.2,893.2 267.6,894.4 269,895.3 270.3,896 271.7,896.5 273.1,896.8 274.4,896.8 275.8,896.6 277.2,896.2 278.5,895.3 279.9,894 281.3,892.5 282.6,890.9 284,889.2 285.3,887.4 286.7,885.5 288.1,883.6 289.4,881.6 290.8,879.7 292.2,878 293.5,876.5 294.9,875.8 296.3,875.6 297.6,876.4 299,878.1 300.4,880.5 301.7,883.5 303.1,886.9 304.5,890.6 305.8,894.4 307.2,898.4 308.6,902.1 309.9,905.7 311.3,909 312.7,911.6 314,913.6 315.4,915.2 316.7,916.4 318.1,917.4 319.5,918.3 320.8,919 322.2,919.6 323.6,919.9 324.9,920.1 326.3,920 327.7,919.6 329,918.8 330.4,917.5 331.8,915.8 333.1,913.6 334.5,911.5 335.9,909.5 337.2,907.7 338.6,906 340,904.5 341.3,902.7 342.7,900.6 344.1,897.9 345.4,894.8 346.8,891.3 348.2,887.6 349.5,883.8 350.9,880 352.2,876.3 353.6,872.8 355,869.7 356.3,867.1 357.7,864.6 359.1,862.1 360.4,859.6 361.8,857.1 363.2,854.7 364.5,852.4 365.9,850.5 367.3,848.9 368.6,847.4 370,846.1 371.4,845 372.7,843.8 374.1,842.5 375.5,841.3 376.8,840 378.2,838.7 379.6,837.5 380.9,836.4 382.3,835.3 383.6,834.5 385,833.7 386.4,833.2 387.7,832.9 389.1,832.7 390.5,833 391.8,833.7 393.2,834.7 394.6,836 395.9,837.5 397.3,839.2 398.7,841.1 400,843.1 401.4,845.1 402.8,847.1 404.1,849.1 405.5,851 406.9,852.8 408.2,854.5 409.6,856.2 411,857.8 412.3,859.4 413.7,861 415.1,862.5 416.4,863.8 417.8,864.9 419.1,864.9 420.5,864.3 421.9,863.3 423.2,862.5 424.6,861.9 426,861.4 427.3,861.1 428.7,861 430.1,860.9 431.4,860.9 432.8,861.1 434.2,861.2 435.5,861.5 436.9,861.7 438.3,861.9 439.6,862 441,862.1 442.4,862.1 443.7,862 445.1,861.8 446.5,861.6 447.8,861.2 449.2,860.6 450.5,859.8 451.9,859 453.3,858 454.6,857 456,856 457.4,855 458.7,854.4 460.1,853.9 461.5,853.6 462.8,853.3 464.2,853 465.6,852.7 466.9,852.3 468.3,852 469.7,851.6 471,851.2 472.4,850.8 473.8,850.4 475.1,850.1 476.5,849.8 477.9,849.4 479.2,849 480.6,848.6 482,847.9 483.3,846.9 484.7,845.8 486,844.6 487.4,843.5 488.8,842.4 490.1,841.5 491.5,840.8 492.9,840 494.2,839.1 495.6,838.1 497,837.2 498.3,836.5 499.7,836.7 501.1,837.7 502.4,839.7 503.8,842.1 505.2,844.8 506.5,847.6 507.9,850.5 509.3,853.2 510.6,855.9 512,858.4 513.4,860.8 514.7,863 516.1,865.1 517.4,866.9 518.8,868.6 520.2,870 521.5,871.2 522.9,872 524.3,872.6 525.6,873 527,873.1 528.4,872.9 529.7,872.5 531.1,871.9 532.5,871.1 533.8,870.2 535.2,869.2 536.6,868.1 537.9,867 539.3,865.8 540.7,864.6 542,863.4 543.4,862.1 544.8,860.9 546.1,859.6 547.5,858.2 548.9,856.7 550.2,855.2 551.6,853.9 552.9,852.8 554.3,852 555.7,851.5 557,851.2 558.4,851 559.8,850.8 561.1,850.7 562.5,850.6 563.9,850.5 565.2,850.5 566.6,850.4 568,850.3 569.3,850.3 570.7,850.2 572.1,850.1 573.4,850.1 574.8,850 576.2,849.9 577.5,849.8 578.9,849.6 580.3,849.4 581.6,849.1 583,848.8 584.3,848.3 585.7,847.7 587.1,847 588.4,846.1 589.8,845 591.2,842.6 592.5,839.2 593.9,835.4 595.3,831.6 596.6,827.9 598,824.4 599.4,821.1 600.7,817.8 602.1,814.4 603.5,811.1 604.8,808.1 606.2,805.2 607.6,802.6 608.9,800.4 610.3,798.3 611.7,796.6 613,795.4 614.4,794.6 615.8,794 617.1,793.4 618.5,793.1 619.8,793 621.2,793.2 622.6,793.7 623.9,794.5 625.3,795.5 626.7,796.7 628,798.2 629.4,799.8 630.8,801.6 632.1,803.5 633.5,805.4 634.9,807.1 636.2,808.2 637.6,808.8 639,809.3 640.3,809.5 641.7,809.5 643.1,809.7 644.4,810.1 645.8,810.6 647.2,811.2 648.5,812 649.9,812.9 651.2,813.9 652.6,815 654,816.2 655.3,817.5 656.7,818.9 658.1,820.4 659.4,821.9 660.8,823.5 662.2,825.2 663.5,826.9 664.9,828.8 666.3,830.7 667.6,832.3 669,833.7 670.4,834.8 671.7,835.4 673.1,835.4 674.5,834.7 675.8,833.3 677.2,831.2 678.6,828.7 679.9,826 681.3,823.3 682.6,820.7 684,818.3 685.4,816.1 686.7,814.1 688.1,812.4 689.5,811.1 690.8,810.1 692.2,809.2 693.6,808.4 694.9,807.8 696.3,807.4 697.7,807.2 699,807.1 700.4,807.2 701.8,807.4 703.1,807.6 704.5,808 705.9,808.5 707.2,808.8 708.6,809 710,809 711.3,809 712.7,808.9 714.1,808.8 715.4,808.6 716.8,808.5 718.1,808.5 719.5,808.6 720.9,809.1 722.2,809.9 723.6,811.1 725,812.5 726.3,814 727.7,815.6 729.1,817.2 730.4,818.9 731.8,820.5 733.2,821.9 734.5,822.9 735.9,823.8 737.3,824.7 738.6,825.6 740,826.5 741.4,827.4 742.7,828.2 744.1,828.9 745.5,829.5 746.8,830.2 748.2,831 749.5,832 750.9,833 752.3,834.1 753.6,835.1 755,836.2 756.4,837.2 757.7,838.2 759.1,839.2 760.5,840.3 761.8,841.3 763.2,842.2 764.6,843 765.9,843.7 767.3,844.5 768.7,845.2 770,845.9 771.4,846.6 772.8,847 774.1,847.2 775.5,847.2 776.9,847 778.2,846.9 779.6,846.7 781,846.6 782.3,846.6 783.7,846.6 785,846.8 786.4,847 787.8,847.1 789.1,847.2 790.5,847.4 791.9,847.6 793.2,847.8 794.6,848.1 796,848.5 797.3,848.9 798.7,849.3 800.1,849.7 801.4,850.1 802.8,850.3 804.2,850.4 805.5,850.1 806.9,849.5 808.3,848.2 809.6,846.2 811,844 812.4,841.6 813.7,839.1 815.1,836.8 816.4,834.5 817.8,832.3 819.2,830.3 820.5,828.5 821.9,826.8 823.3,825.3 824.6,824 826,823 827.4,822.3 828.7,821.8 830.1,821.4 831.5,821.2 832.8,821.1 834.2,821.1 835.6,821.1 836.9,821.2 838.3,821.2 839.7,821.5 841,821.9 842.4,822.4 843.8,823 845.1,823.8 846.5,824.5 847.9,825.4 849.2,826.4 850.6,827.4 851.9,828.5 853.3,829.6 854.7,830.7 856,831.8 857.4,832.8 858.8,833.8 860.1,834.7 861.5,835.5 862.9,836.3 864.2,837 865.6,837.6 867,838.2 868.3,838.6 869.7,839 871.1,839.4 872.4,839.7 873.8,840 875.2,840.2 876.5,840.4 877.9,840.6 879.3,840.8 880.6,841 882,841.1 883.3,841.3 884.7,841.6 886.1,842.1 887.4,842.9 888.8,844.1 890.2,845.5 891.5,847.1 892.9,848.8 894.3,850.4 895.6,852 897,853.6 898.4,854.9 899.7,856.1 901.1,856.8 902.5,857.2 903.8,857.3 905.2,857.5 906.6,857.8 907.9,858 909.3,858.3 910.7,858.7 912,859 913.4,859.3 914.8,859.5 916.1,859.8 917.5,860 918.8,860.2 920.2,860.3 921.6,860.1 922.9,859.7 924.3,859.1 925.7,858.4 927,857.6 928.4,856.6 929.8,855.7 931.1,854.7 932.5,853.7 933.9,852.8 935.2,851.9 936.6,851.2 938,850.6 939.3,850 940.7,849.5 942.1,849 943.4,848.5 944.8,847.9 946.2,847.2 947.5,846.4 948.9,845.6 950.2,844.7 951.6,843.9 953,843 954.3,842.1 955.7,841.2 957.1,840.3 958.4,839.7 959.8,839.3 961.2,839.1 962.5,839 963.9,839.1 965.3,838.8 966.6,838.3 968,837.7 969.4,837 970.7,836.3 972.1,835.5 973.5,834.6 974.8,833.5 976.2,832 977.6,829.8 978.9,827.1 980.3,824 981.7,820.8 983,817.8 984.4,814.9 985.7,812.3 987.1,809.9 988.5,807.9 989.8,806.1 991.2,804.5 992.6,803.2 993.9,802.1 995.3,801.2 996.7,800.5 998,799.9 999.4,799.4 1000.8,799.1 1002.1,798.8 1003.5,798.5 1004.9,798.5 1006.2,798.8 1007.6,799.1 1009,799.5 1010.3,800 1011.7,800.4 1013.1,801 1014.4,801.5 1015.8,802 1017.1,802.6 1018.5,803.2 1019.9,803.8 1021.2,804.5 1022.6,805.2 1024,806 1025.3,806.8 1026.7,807.5 1028.1,808.3 1029.4,809 1030.8,809.5 1032.2,809.7 1033.5,809.4 1034.9,808.6 1036.3,807.4 1037.6,806.1 1039,804.9 1040.4,803.8 1041.7,802.7 1043.1,802.2 1044.5,802.4 1045.8,802.6 1047.2,802.9 1048.6,803.4 1049.9,803.9 1051.3,804.4 1052.6,805 1054,805.7 1055.4,806.4 1056.7,807 1058.1,807.5 1059.5,808.1 1060.8,808.6 1062.2,809.2 1063.6,809.9 1064.9,810.6 1066.3,811.5 1067.7,812.4 1069,813.2 1070.4,814.1 1071.8,814.9 1073.1,815.7 1074.5,816.5 1075.9,817.2 1077.2,817.8 1078.6,818.2 1080,818.6 1081.3,818.7 1082.7,818.7 1084,818.4 1085.4,818.1 1086.8,817.9 1088.1,818.1 1089.5,818.8 1090.9,819.7 1092.2,820.8 1093.6,822 1095,823.5 1096.3,825 1097.7,826.7 1099.1,828.4 1100.4,830.3 1101.8,832.2 1103.2,834.1 1104.5,836.1 1105.9,837.9 1107.3,839.5 1108.6,840.9 1110,841.7 1111.4,842.2 1112.7,842.3 1114.1,842.3 1115.5,842.2 1116.8,842 1118.2,841.9 1119.5,841.7 1120.9,841.5 1122.3,841.1 1123.6,840.6 1125,839.6 1126.4,838.3 1127.7,836.5 1129.1,834.2 1130.5,831.7 1131.8,829 1133.2,826.3 1134.6,823.7 1135.9,821.2 1137.3,818.9 1138.7,816.7 1140,814.8 1141.4,813.2 1142.8,811.9 1144.1,810.9 1145.5,810 1146.9,809.1 1148.2,808 1149.6,806.7 1150.9,805.1 1152.3,803.1 1153.7,800.9 1155,798.4 1156.4,795.6 1157.8,792.9 1159.1,790.6 1160.5,788.4 1161.9,786.3 1163.2,784.4 1164.6,782.5 1166,780.6 1167.3,778.9 1168.7,777.4 1170.1,776.1 1171.4,774.9 1172.8,773.9 1174.2,773.5 1175.5,774 1176.9,775.2 1178.3,776.7 1179.6,778.4 1181,780.4 1182.3,782.6 1183.7,784.8 1185.1,787.2 1186.4,789.1 1187.8,790.6 1189.2,792.2 1190.5,793.8 1191.9,795.3 1193.3,796.5 1194.6,797.8 1196,799.3 1197.4,800.9 1198.7,802.7 1200.1,804.5 1201.5,806.2 1202.8,807.7 1204.2,809.1 1205.6,810.4 1206.9,811.5 1208.3,812.4 1209.7,813.5 1211,814.6 1212.4,815.9 1213.8,817.4 1215.1,819.3 1216.5,821.4 1217.8,823.8 1219.2,826.1 1220.6,828.3 1221.9,830.4 1223.3,832.2 1224.7,833.8 1226,835.2 1227.4,836.4 1228.8,837.4 1230.1,838.3 1231.5,839.2 1232.9,840.1 1234.2,841.2 1235.6,842.6 1237,844.2 1238.3,845.9 1239.7,847.6 1241.1,848.9 1242.4,849.9 1243.8,850.5 1245.2,851 1246.5,851.2 1247.9,851.4 1249.2,851.4 1250.6,851.4 1252,851.4 1253.3,851.4 1254.7,851.2 1256.1,850.8 1257.4,850.3 1258.8,849.5 1260.2,848.5 1261.5,847.2 1262.9,845.5 1264.3,843.8 1265.6,842 1267,840.2 1268.4,838.5 1269.7,837 1271.1,835.6 1272.5,834.4 1273.8,833.4 1275.2,832.5 1276.6,831.9 1277.9,831.3 1279.3,830.8 1280.7,830.4 1282,830 1283.4,829.6 1284.7,829 1286.1,828.4 1287.5,828 1288.8,827.6 1290.2,827.4 1291.6,827.5 1292.9,827.7 1294.3,828.1 1295.7,828.7 1297,829.3 1298.4,830.1 1299.8,831 1301.1,831.9 1302.5,833.1 1303.9,834.4 1305.2,835.8 1306.6,837.4 1308,839 1309.3,840.6 1310.7,842.2 1312.1,843.8 1313.4,845.4 1314.8,846.9 1316.1,848.3 1317.5,849.4 1318.9,850.4 1320.2,851.4 1321.6,852.4 1323,853.4 1324.3,854.5 1325.7,855.6 1327.1,856.8 1328.4,858 1329.8,859.2 1331.2,860.3 1332.5,861.3 1333.9,862.2 1335.3,862.9 1336.6,863.3 1338,863.3 1339.4,862.8 1340.7,861.9 1342.1,860.7 1343.5,859.2 1344.8,857.3 1346.2,855.1 1347.6,852.7 1348.9,850.3 1350.3,848.1 1351.6,846.1 1353,844.1 1354.4,842.2 1355.7,840.5 1357.1,839 1358.5,837.6 1359.8,836.6 1361.2,835.8 1362.6,835.4 1363.9,835.3 1365.3,835.8 1366.7,837 1368,838.7 1369.4,840.9 1370.8,843.1 1372.1,845.2 1373.5,847 1374.9,848.4 1376.2,849.6 1377.6,850.5 1379,851.2 1380.3,851.8 1381.7,852.4 1383,853 1384.4,853.4 1385.8,853.6 1387.1,853.7 1388.5,853.5 1389.9,853.2 1391.2,852.7 1392.6,851.9 1394,850.9 1395.3,849.9 1396.7,848.8 1398.1,847.8 1399.4,847 1400.8,846.6 1402.2,846.3 1403.5,846.3 1404.9,846.3 1406.3,846.5 1407.6,846.8 1409,847.1 1410.4,847.7 1411.7,848.5 1413.1,849.4 1414.5,850.3 1415.8,851 1417.2,851.6 1418.5,852 1419.9,852.2 1421.3,852.2 1422.6,852 1424,851.7 1425.4,851.2 1426.7,850.6 1428.1,849.9 1429.5,848.9 1430.8,847.8 1432.2,846.5 1433.6,845.1 1434.9,843.5 1436.3,841.9 1437.7,840.2 1439,838.6 1440.4,837 1441.8,835.5 1443.1,834.1 1444.5,833 1445.9,832.3 1447.2,831.9 1448.6,831.7 1449.9,831.8 1451.3,831.9 1452.7,832 1454,832.1 1455.4,832.3 1456.8,832.7 1458.1,833.2 1459.5,833.7 1460.9,834.2 1462.2,834.3 1463.6,834.1 1465,833.6 1466.3,833 1467.7,832.1 1469.1,831.2 1470.4,830.2 1471.8,829.1 1473.2,828.1 1474.5,827.2 1475.9,826.4 1477.3,825.8 1478.6,825.3 1480,824.7 1481.4,824.1 1482.7,823.5 1484.1,822.8 1485.4,822.1 1486.8,821.4 1488.2,820.9 1489.5,820.5 1490.9,820.4 1492.3,820.5 1493.6,820.8 1495,820.7 1496.4,820.1 1497.7,818.9 1499.1,817.2 1500.5,815 1501.8,812.5 1503.2,809.6 1504.6,806.7 1505.9,803.9 1507.3,801.2 1508.7,798.8 1510,796.5 1511.4,794.3 1512.8,792.3 1514.1,790.5 1515.5,788.7 1516.8,787 1518.2,785.5 1519.6,784.2 1520.9,783.8 1522.3,783.8 1523.7,783.8 1525,783.9 1526.4,784.2 1527.8,784.7 1529.1,785.3 1530.5,786.1 1531.9,786.8 1533.2,787.6 1534.6,788.4 1536,789.2 1537.3,789.9 1538.7,790.6 1540.1,791.4" fill="none" stroke="#c8c8c8" stroke-width="1"/>
<polyline points="0,806.6 3.7,804.8 7.4,807.8 11,815.1 15.9,827.4 20.8,837.2 24.5,841.4 30.6,847 35.5,849.4 39.2,859.2 44.1,869 49,877.6 51.9,880.1 54.4,879.3 57.6,881.3 61.3,878.4 64.9,870.3 68.6,865.4 72.3,865.9 76,869 79.6,869.5 83.3,873.9 87.7,879.3 91.9,878.4 96.8,877.1 101.7,876.4 105.4,881.3 109,887.4 112.7,891.6 116.4,887.4 120.6,885 123.7,876.4 127.4,859.2 131.1,848.2 134.8,845.3 138,840.9 139.7,840.4 142.6,848.2 146.3,854.3 150,858 152.7,859.2 155.6,851.9 158.8,842.8 161.7,845.8 164.7,850.2 167.9,848.2 171.5,850.2 174.5,851.2 178.9,848.2 182.6,843.3 186.2,837.9 189.9,832.3 193.6,821.3 196.8,816.8 202.2,816.8 205.8,821.3 209.5,829.8 213.2,838.4 216.9,842.1 220.5,843.3 224.2,848.2 229.1,851.9 234,855.6 237.7,856.8 241.4,859.7 245,859.2 248.7,869 252.4,882.5 256.1,893.5 259.7,899.7 263.4,902.6 268.3,900.9 273.2,898.4 276.9,894.3 280.6,885 284.2,879.3 287.9,872.7 290.4,869 293.3,867.8 296.5,875.2 300.2,893.5 303.8,909.5 307.5,921.7 311.2,927.9 314.9,924.2 318.5,923 322.2,923 325.9,920.5 329.6,913.1 333.3,900.9 336.9,897.2 340.1,896 343.1,887.4 346.7,871.5 350.4,859.2 354.1,851.9 356.5,852.6 360.2,845.8 363.9,839.6 367.6,839.6 371.2,838.4 374.9,834.7 378.6,831.1 382.3,829.3 385.9,829.8 389.6,832.3 393.3,840.9 397,848.2 400.6,855.6 404.3,860.5 408,864.1 410,865.9 413.7,870.3 417.8,871.5 419.8,861.7 422.3,857.5 425.9,858.8 430.8,861 435.7,862.9 440.6,862.9 446.8,860 451.7,854.3 456.6,849.4 461.5,851.9 466.4,850.7 471.3,848.7 476.2,848.2 481.1,845.8 484.7,838.9 488.4,836.5 492.1,836.5 495.8,832.3 498.2,832.3 500.2,838.9 502.6,851.9 505.6,861.7 509.2,869 512.9,873.9 516.6,877.1 520.3,878.4 523.9,876.4 527.6,873.2 531.3,867.8 536.2,862.4 541.1,857.3 546,852.6 550.2,846.3 553.3,847 557,849.4 561.9,850.2 569.3,849.9 576.6,849.4 581.5,847.7 586.4,844 590.1,838.4 592.1,821.3 595,810.2 597.5,805.3 599.9,801.7 602.4,794.3 606,788.9 610.9,786.5 614.6,790.1 618.3,790.6 622,795.5 625.6,801.7 629.3,809 631.8,813.4 634.2,817.6 637.4,812.7 641.6,809.7 645.2,812.7 648.9,816.8 652.6,821.3 656.3,826.2 659.9,831.1 663.6,837.2 666.1,841.4 668.5,841.6 671,840.9 673.4,834.7 675.9,824.9 678.3,815.1 680.8,808.5 684.4,804.1 687.4,802.4 690.6,804.6 693.8,803.6 697.9,806.1 702.8,809 706.5,811.5 710.2,809 715.1,807.8 719.2,808.5 722.4,815.1 726.1,822.5 729.8,827.4 732.2,830.3 734.7,828.6 738.4,830.3 742,833 745.7,832.8 749.4,837.2 753.1,840.9 758,844 761.6,847 765.3,847.7 769,849.4 771.9,850.7 775.1,847 778.8,845.8 782.5,846.3 786.1,848.2 789.8,847.7 793.5,849.4 797.2,851.2 800.8,852.4 804.5,850.7 807,845.8 809.4,836 811.9,828.6 815.5,822.5 819.2,818.8 820,818.3 823.7,816.4 828.6,818.8 833.5,820.8 838.4,821.7 843.3,826.2 848.2,830.6 853.1,836 858,838.9 862.9,840.9 869,841.4 876.4,841.6 883.7,842.1 886.7,845.8 889.8,853.1 893.5,859.2 897.2,862.4 899.6,862.9 903.3,858 907,859.2 911.9,861 916.8,861 919.2,861.7 922.9,857.5 927.8,851.9 932.7,847.7 937.6,847 942.5,846.3 947.4,842.1 952.3,838.4 956.7,835.2 960.9,837.9 964.1,839.1 967,834.7 971.9,831.6 975.6,826.2 978,815.1 980.5,805.3 983.7,799.2 986.6,796.8 991.5,795.5 996.4,796.3 1001.3,797.2 1003.8,796.8 1006.2,800.4 1011.1,802.9 1016,805.3 1020.9,807.8 1024.6,811 1029.5,813.2 1032,811.5 1034.4,805.3 1036.9,799.2 1039.3,798 1041.8,796.3 1044.2,802.9 1047.9,805.3 1051.6,807.8 1055.2,810.2 1058.9,810.7 1062.6,812.7 1066.3,816.4 1069.9,818.8 1073.6,820.5 1077.3,821.3 1081,820 1084.6,816.4 1087.1,816.8 1089.5,822.5 1093.2,828.6 1096.9,834.7 1100.6,840.9 1104.2,847 1107.9,849.4 1110.4,845.8 1114,842.1 1117.7,840.9 1121.4,840.4 1123.8,837.2 1126.3,831.1 1128.7,822.5 1131.2,815.1 1133.6,810.2 1137.3,805.3 1141,803.6 1144.7,805.3 1147.1,804.1 1149.6,799.2 1152,793.1 1154.5,785.7 1156.9,778.4 1159.4,777.2 1163.1,773.5 1166.7,769.3 1170.4,768.6 1172.1,767.4 1174.1,771 1176.5,780.8 1179,787 1182.7,795.5 1185.1,800.4 1187.6,799.2 1191.2,803.6 1193.7,803.6 1196.1,807.8 1198.6,812.7 1201,815.9 1203.5,816.4 1205.9,818.1 1208.4,817.6 1210.8,820.8 1213.3,824.9 1215.7,831.1 1218.2,838.4 1221.9,842.1 1226.8,843.3 1230,843.3 1233.7,845.8 1236.1,851.9 1239.3,857.5 1243.5,854.3 1248.4,851.9 1253.3,851.2 1257,848.2 1259.9,843.3 1263.1,836 1266.8,829.8 1271.7,827.4 1276.6,828.1 1281.5,828.1 1286.4,824.9 1290,826.2 1293.7,829.8 1297.4,833.5 1301.1,837.2 1304.7,843.3 1308.4,848.7 1312.1,853.1 1315.8,856.1 1319.4,856.1 1323.1,859.2 1326.8,863.4 1330.5,866.6 1334.1,867.3 1337.1,865.4 1340.3,858 1343.9,849.4 1347.6,838.4 1351.3,834.7 1355,831.1 1358.6,829.8 1362.3,832.3 1364.8,836.5 1367.2,845.8 1369.7,854.3 1372.1,857.3 1375.8,856.3 1379.5,855.1 1383.1,856.3 1386.8,854.3 1390.5,850.7 1394.2,845.3 1397.9,841.6 1401.5,844.5 1405.2,847 1408.9,848.7 1412.6,854.3 1415,855.6 1418.7,854.3 1422.4,851.2 1426,848.2 1429.7,843.3 1433.4,837.2 1437.1,831.6 1440.7,827.4 1443.7,826.2 1446.9,829.1 1450.5,832.8 1454.2,832.3 1457.9,836 1460.8,837.2 1464,832.3 1467.7,827.4 1471.4,823.2 1475,821.7 1478.7,822.5 1482.4,820 1486.1,817.6 1489.7,818.3 1493.4,822.5 1495.9,818.8 1498.3,810.2 1500.8,801.7 1503.2,793.1 1505.7,788.2 1509.3,784 1513,780.8 1516.7,777.6 1519.1,775.9 1521.6,783.3 1525.3,784.5 1528.9,788.9 1532.6,791.9 1536.3,793.8 1538.7,794.3 1540.7,796.8" fill="none" stroke="#f59a0c" stroke-width="1.1"/>
<g stroke="#e4e4e4" stroke-width="1.3">
<line x1="311.2" y1="928.6" x2="528.8" y2="877"/>
<line x1="603.6" y1="783.3" x2="842.8" y2="817.6"/>
<line x1="1155" y1="764.2" x2="1535.8" y2="780.3"/>
</g></g>
</svg>
<div class="abs" id="rline"></div>
<div class="abs" id="taxl"></div>
<div class="pl" style="top:62.0px">100000.00</div>
<div class="tk" style="top:69px"></div>
<div class="pl" style="top:87.7px">90000.00</div>
<div class="tk" style="top:95px"></div>
<div class="pl" style="top:116.5px">80000.00</div>
<div class="tk" style="top:124px"></div>
<div class="pl" style="top:150.7px">70000.00</div>
<div class="tk" style="top:158px"></div>
<div class="pl" style="top:188.3px">60000.00</div>
<div class="tk" style="top:195px"></div>
<div class="pl" style="top:233.2px">50000.00</div>
<div class="tk" style="top:240px"></div>
<div class="pl" style="top:288.4px">40000.00</div>
<div class="tk" style="top:295px"></div>
<div class="pl" style="top:360.9px">30000.00</div>
<div class="tk" style="top:368px"></div>
<div class="pl" style="top:460.4px">20000.00</div>
<div class="tk" style="top:467px"></div>
<div class="pl" style="top:606.0px">80</div>
<div class="tk" style="top:613px"></div>
<div class="pl" style="top:641.8px">60</div>
<div class="tk" style="top:649px"></div>
<div class="pl" style="top:677.2px">40</div>
<div class="tk" style="top:684px"></div>
<div class="pl" style="top:712.2px">20</div>
<div class="tk" style="top:719px"></div>
<div class="pl" style="top:766.9px">10</div>
<div class="tk" style="top:774px"></div>
<div class="pl" style="top:800.2px">5</div>
<div class="tk" style="top:807px"></div>
<div class="pl" style="top:833.9px">0</div>
<div class="tk" style="top:841px"></div>
<div class="pl" style="top:867.5px">-5</div>
<div class="tk" style="top:874px"></div>
<div class="pl" style="top:901.7px">-10</div>
<div class="tk" style="top:909px"></div>
<svg class="abs" style="left:1630px;top:62px" width="84" height="24" viewBox="0 0 84 24"><path d="M6 12 L12 7.5 V5 Q12 3 14 3 H73 Q75 3 75 5 V19 Q75 21 73 21 H14 Q12 21 12 19 V16.5 Z" fill="#cccc33"/><text x="13.6" y="17.2" font-family="Liberation Sans, sans-serif" font-size="14" fill="#000" textLength="58.6" lengthAdjust="spacingAndGlyphs">97999.50</text></svg>
<div class="tl" style="left:76.3px">Jan '22</div>
<div class="tt" style="left:76px"></div>
<div class="tl" style="left:155.5px">Mar '22</div>
<div class="tt" style="left:156px"></div>
<div class="tl" style="left:239.3px">May '22</div>
<div class="tt" style="left:239px"></div>
<div class="tl" style="left:322.6px">Jul '22</div>
<div class="tt" style="left:323px"></div>
<div class="tl" style="left:408px">Sep '22</div>
<div class="tt" style="left:408px"></div>
<div class="tl" style="left:489.2px">Nov '22</div>
<div class="tt" style="left:489px"></div>
<div class="tl" style="left:573px">Jan '23</div>
<div class="tt" style="left:573px"></div>
<div class="tl" style="left:654.3px">Mar '23</div>
<div class="tt" style="left:654px"></div>
<div class="tl" style="left:736.6px">May '23</div>
<div class="tt" style="left:737px"></div>
<div class="tl" style="left:821.4px">Jul '23</div>
<div class="tt" style="left:821px"></div>
<div class="tl" style="left:905.7px">Sep '23</div>
<div class="tt" style="left:906px"></div>
<div class="tl" style="left:988.5px">Nov '23</div>
<div class="tt" style="left:988px"></div>
<div class="tl" style="left:1069.8px">Jan '24</div>
<div class="tt" style="left:1070px"></div>
<div class="tl" style="left:1154px">Mar '24</div>
<div class="tt" style="left:1154px"></div>
<div class="tl" style="left:1237.3px">May '24</div>
<div class="tt" style="left:1237px"></div>
<div class="tl" style="left:1318.6px">Jul '24</div>
<div class="tt" style="left:1319px"></div>
<div class="tl" style="left:1404.4px">Sep '24</div>
<div class="tt" style="left:1404px"></div>
<div class="tl" style="left:1488.7px">Nov '24</div>
<div class="tt" style="left:1489px"></div>
<div class="abs" style="left:1541px;top:936px;width:1px;height:22px;background:#9a9a9a"></div>
<svg class="abs" style="left:1543px;top:943px" width="9" height="10" viewBox="0 0 9 10"><path d="M0.5 5 L4.5 1 V3.5 H7.5 V6.5 H4.5 V9 Z" fill="#9a9a9a"/></svg>
<svg class="abs" style="left:0;top:0" width="500" height="23" viewBox="0 0 500 23">
<text x="9.3" y="16" font-family="Liberation Sans, sans-serif" font-size="12.6" font-weight="bold" fill="#fff" textLength="27.6" lengthAdjust="spacingAndGlyphs">BTC</text>
<text x="41.5" y="16" font-family="Liberation Sans, sans-serif" font-size="11.3" font-weight="bold" fill="#fff" textLength="48.6" lengthAdjust="spacingAndGlyphs">CRYPTO</text>
<path d="M92 9 H101.3 L96.6 14.2 Z" fill="#fff"/>
<rect x="107.8" y="3" width="42.3" height="13" fill="#00677d"/>
<text x="111.6" y="12.7" font-family="Liberation Sans, sans-serif" font-size="10" fill="#8fd0e0" textLength="34.5" lengthAdjust="spacingAndGlyphs">PAXOS</text>
<text x="160.5" y="16" font-family="Liberation Sans, sans-serif" font-size="12.6" font-weight="bold" fill="#fff" textLength="178.5" lengthAdjust="spacingAndGlyphs">36 Months/Daily candles</text>
<path d="M344 9 H353.3 L348.6 14.2 Z" fill="#fff"/>
<text x="365" y="16" font-family="Liberation Sans, sans-serif" font-size="12.8" fill="#9c9c9c" textLength="21" lengthAdjust="spacingAndGlyphs">File</text>
<text x="399" y="16" font-family="Liberation Sans, sans-serif" font-size="12.8" fill="#9c9c9c" textLength="24" lengthAdjust="spacingAndGlyphs">Edit</text>
<text x="437" y="16" font-family="Liberation Sans, sans-serif" font-size="12.8" fill="#9c9c9c" textLength="29.3" lengthAdjust="spacingAndGlyphs">View</text>
<rect x="365" y="17" width="7" height="1" fill="#9c9c9c"/>
<rect x="399" y="17" width="8" height="1" fill="#9c9c9c"/>
<rect x="437" y="17" width="8" height="1" fill="#9c9c9c"/>
</svg>
<svg class="abs" style="left:1554px;top:2px" width="160" height="20" viewBox="0 0 160 20" fill="none" stroke="#8c8c8c">
<circle cx="10" cy="9.5" r="5.6" fill="#8c8c8c" stroke="none"/><path d="M5 13 L4 16 L8 14.5Z" fill="#8c8c8c" stroke="none"/><circle cx="15" cy="13" r="3" fill="#8c8c8c" stroke="none"/><path d="M17 15 L18.5 17 L15 16Z" fill="#8c8c8c" stroke="none"/><rect x="8" y="8" width="3.2" height="3" fill="#121212" stroke="none"/><rect x="9" y="6.3" width="1.2" height="2" fill="#121212" stroke="none"/>
<g transform="translate(34.4,9.4)" fill="#8c8c8c" stroke="none"><path fill-rule="evenodd" d="M0 -5.2 A5.2 5.2 0 1 0 0.001 -5.2 Z M0 -2.3 A2.3 2.3 0 1 1 -0.001 -2.3 Z"/><rect x="-1.4" y="-6.8" width="2.8" height="2.4" transform="rotate(0)"/><rect x="-1.4" y="-6.8" width="2.8" height="2.4" transform="rotate(45)"/><rect x="-1.4" y="-6.8" width="2.8" height="2.4" transform="rotate(90)"/><rect x="-1.4" y="-6.8" width="2.8" height="2.4" transform="rotate(135)"/><rect x="-1.4" y="-6.8" width="2.8" height="2.4" transform="rotate(180)"/><rect x="-1.4" y="-6.8" width="2.8" height="2.4" transform="rotate(225)"/><rect x="-1.4" y="-6.8" width="2.8" height="2.4" transform="rotate(270)"/><rect x="-1.4" y="-6.8" width="2.8" height="2.4" transform="rotate(315)"/></g>
<g transform="translate(54,10) rotate(-35)" stroke-width="1.4"><rect x="-7.5" y="-2.3" width="8" height="4.6" rx="2.3"/><rect x="-0.5" y="-2.3" width="8" height="4.6" rx="2.3"/></g>
<g transform="translate(74,10)" stroke-width="1.4"><path d="M-5.5 5.5 L-0.5 0.5"/><path d="M-2.5 -1.5 L2 3 M0 -4 L4.5 0.5 M-1.5 -1 L1 -4.5 L5 -0.5 L1.5 2" /></g>
<path d="M86.5 7.5 H92.5 L89.5 11 Z" fill="#8c8c8c" stroke="none"/>
<path d="M105 13.5 H116" stroke-width="1.3"/>
<path d="M126 8 V4.5 H129.5 M133.5 4.5 H137 V8 M137 11 V14.5 H133.5 M129.5 14.5 H126 V11" stroke-width="1.3"/>
<path d="M147.5 4.5 L157 14.5 M157 4.5 L147.5 14.5" stroke-width="1.3"/>
</svg>
<svg class="abs" style="left:0;top:23px" width="640" height="22" viewBox="0 23 640 22">
<rect x="-1" y="29.2" width="7.1" height="12" fill="#e6e2f6"/>
<path d="M-0.8 36.6 L7.6 26.8 L9.2 28.2 L0.8 38.2Z" fill="#f0300c"/><path d="M7.4 27.6L8.6 26.6L9.2 27.3L8.4 28.4Z" fill="#f4e8e0"/>
<g shape-rendering="crispEdges"><rect x="16" y="29" width="2" height="12" fill="#4a5286"/><rect x="15" y="30" width="1" height="1" fill="#7a80b0"/><rect x="18" y="38" width="1" height="1" fill="#4a5286"/>
<rect x="19" y="27" width="2" height="10" fill="#5a8a62"/><rect x="21" y="28" width="1" height="1" fill="#5a8a62"/><rect x="18" y="33" width="1" height="1" fill="#7ab088"/>
<rect x="23" y="28" width="2" height="12" fill="#5a8a62"/><rect x="25" y="29" width="1" height="1" fill="#5a8a62"/><rect x="22" y="36" width="1" height="1" fill="#7ab088"/>
<rect x="26" y="31" width="2" height="8" fill="#4a5286"/><rect x="25" y="31" width="1" height="1" fill="#7a80b0"/><rect x="28" y="37" width="1" height="1" fill="#4a5286"/></g>
<g fill="#527fa0">
<rect x="36.8" y="38" width="1.3" height="3.2"/>
<rect x="38.9" y="35.9" width="1.7" height="5.3"/>
<rect x="41.1" y="34.2" width="1.8" height="7.0"/>
<rect x="43.4" y="32.2" width="1.8" height="9.0"/>
<rect x="45.8" y="34.2" width="1.6" height="7.0"/>
<rect x="48.1" y="35.9" width="1.8" height="5.3"/>
</g>
<path d="M74.6 34.8 L79.2 39.6" stroke="#d6b494" stroke-width="2.2" stroke-linecap="round"/>
<circle cx="71.8" cy="31.7" r="3.7" fill="#8c9c9c" stroke="#b4bcbc" stroke-width="1.1"/>
<rect x="70.0" y="30.7" width="3.6" height="2" fill="#4f9a3c"/>
<path d="M95.39999999999999 34.8 L100.0 39.6" stroke="#d6b494" stroke-width="2.2" stroke-linecap="round"/>
<circle cx="92.6" cy="31.7" r="3.7" fill="#8c9c9c" stroke="#b4bcbc" stroke-width="1.1"/>
<rect x="90.8" y="30.7" width="3.6" height="2" fill="#b05038"/>
<rect x="70.8" y="29.9" width="2" height="3.6" fill="#4f9a3c"/>
<path d="M109.4 27.3 L110.6 27 L113.6 32.2 L114.4 31.2 L115.6 31.6 L116.6 31 L117.8 31.6 L118.6 31.2 L120 32.6 L122.2 36.6 L121.6 39.4 L118.6 40.8 L116.6 40.4 L114 38 L111.2 36.8 L110.4 35.6 L111.6 34.8 L113 35.4 Z" fill="#fff"/>
<circle cx="136.9" cy="33.5" r="7.6" fill="#c49878"/><path d="M136.9 26V41M129.4 33.5H144.4" stroke="#241408" stroke-width="1" stroke-dasharray="1.4 0.9"/><rect x="135.9" y="32.5" width="2" height="2" fill="#000"/>
<path d="M156.4 34.6 C157.6 30.4 162.8 29 164 33 C164.6 35 164 36.8 163 38.4" fill="none" stroke="#86a4c8" stroke-width="2.4"/><path d="M151.6 32.2 L158.8 34.4 L153.4 39.4 Z" fill="#86a4c8"/>
<path d="M180.6 34.6 C179.4 30.4 174.2 29 173 33 C172.4 35 173 36.8 174 38.4" fill="none" stroke="#c8c8c8" stroke-width="2.4"/><path d="M185.4 32.2 L178.2 34.4 L183.6 39.4 Z" fill="#d4d4d4"/>
<path d="M199.7 31.7 H194.2 V35.8 H199.7 M199.7 29 L205 33.9 L199.7 38.9" fill="none" stroke="#1476e4" stroke-width="1.3"/>
<path d="M220.7 28.5 H232.6 L226.6 39.9 Z" fill="#fff"/>
<path d="M250.1 27.3 L264 40.7 M253.4 27.3 L264 37.5 M256.6 27.3 L264 34.4" stroke="#52687a" stroke-width="1.3"/>
<rect x="250.1" y="33.4" width="9" height="7.3" fill="#5696b4"/><rect x="252.4" y="35" width="4.4" height="1.1" fill="#1e3240"/><rect x="254" y="35" width="1.3" height="4.6" fill="#1e3240"/>
<rect x="260.2" y="27.6" width="3.5" height="3" fill="#fff" stroke="#9c4040" stroke-width="0.8"/>
<path d="M272.6 37 C271.4 32.4 275 28.8 278.6 30 C281.6 31.6 281.4 36.2 278 39 C276 40.2 273.6 39.6 272.6 37Z" fill="#ccbc84"/><path d="M275 38.6 a1.6 1.4 0 0 0 3 -0.4" fill="#5a5a7a"/>
<path d="M278 30.1 H284.6 M281.3 27.2 V33.2" stroke="#78b46c" stroke-width="1.5"/>
<rect x="297.9" y="27.3" width="8.2" height="12.6" fill="#386a6e"/><path d="M297.9 29.4H306.1M297.9 31.6H306.1M297.9 37.6H306.1" stroke="#0c1c1e" stroke-width="0.8"/>
<path d="M293.4 34.6V38.7M295.5 32.6V36.2M297.5 30.5V33.8M304.9 33V36.2" stroke="#4f9c4f" stroke-width="1"/><path d="M300.4 33V36.2M302.4 34.6V38.7" stroke="#3c5cc0" stroke-width="1"/>
<path d="M313 27.3 L326.9 40.7" stroke="#52687a" stroke-width="1.4"/><rect x="323.5" y="27.6" width="3.3" height="3" fill="#fff" stroke="#9c4040" stroke-width="0.8"/>
<path d="M333.8 27.3 L347.3 40.7 M336.8 27.3 L348 38.4 M333.8 30.3 L344.3 40.7" stroke="#52687a" stroke-width="1.2"/><rect x="344.8" y="27.6" width="3.3" height="3" fill="#fff" stroke="#9c4040" stroke-width="0.8"/>
<rect x="367" y="28.8" width="10" height="10" fill="#e4e8d4" stroke="#76a6c8" stroke-width="1.4"/><path d="M365.7 27.5L368 29.8M378.4 27.5L376 29.8M365.7 40.2L368 37.9M378.4 40.2L376 37.9" stroke="#76a6c8" stroke-width="1.3"/>
<circle cx="372.2" cy="33.8" r="3.2" fill="none" stroke="#c8b478" stroke-width="1.3" stroke-dasharray="2 1.2"/><rect x="369.6" y="33" width="1.5" height="4.2" fill="#3c8c4c"/>
<g fill="#c4c4c4"><rect x="386.7" y="29.2" width="2.2" height="11"/><rect x="390.2" y="27.5" width="1.7" height="9.2"/><path d="M393.7 32.3H397.2V30.6L400.7 34.1L397.2 37.6V35.9H393.7Z"/>
<rect x="407.7" y="29.2" width="2.2" height="11"/><rect x="411.2" y="27.5" width="1.7" height="9.2"/><path d="M422.1 32.3H418.2V30.6L414.7 34.1L418.2 37.6V35.9H422.1Z"/>
<rect x="433.1" y="26.6" width="3.9" height="14.9" fill="#d0d0d0"/><path d="M431.8 30.6V37.6L428.3 34.1Z M438.3 30.6V37.6L441.8 34.1Z"/></g>
<rect x="454.9" y="26.2" width="2.2" height="15.3" fill="#2c5c7a"/><path d="M450.1 31V37.1L453.2 34.1Z M462 31V37.1L458.9 34.1Z" fill="#a4cc94"/>
<path d="M471.1 29V39.75H482.1" fill="none" stroke="#a4c49c" stroke-width="1"/>
<path d="M471.1 27.6L469.6 30.2H472.6Z M483.70000000000005 39.75L481.5 38.3V41.2Z" fill="#a4c49c"/>
<text x="474.2" y="37.1" font-family="Liberation Sans, sans-serif" font-size="7.4" fill="#3c466c" textLength="6.1" lengthAdjust="spacingAndGlyphs">A</text>
<path d="M492.1 29V39.75H503.1" fill="none" stroke="#a4c49c" stroke-width="1"/>
<path d="M492.1 27.6L490.6 30.2H493.6Z M504.70000000000005 39.75L502.5 38.3V41.2Z" fill="#a4c49c"/>
<text x="494.8" y="37.1" font-family="Liberation Sans, sans-serif" font-size="10.4" fill="#3c466c" textLength="7.0" lengthAdjust="spacingAndGlyphs">A</text>
<path d="M525.6 30.8 L532.4 37.4" stroke="#b0b0b0" stroke-width="2.8" stroke-linecap="round"/>
<circle cx="524.8" cy="30" r="2.9" fill="#b4b4b4"/><path d="M524.6 29.8 L521.2 26.4" stroke="#000" stroke-width="2"/>
<circle cx="533.2" cy="38.2" r="2.9" fill="#b4b4b4"/><path d="M533.4 38.4 L536.8 41.8" stroke="#000" stroke-width="2"/>
<path d="M542.2 34.2 L554 26.3" stroke="#6888a0" stroke-width="1.1"/><path d="M550.2 31.2 V38.9 L552 37.3 L553.4 41 L554.8 40.4 L553.4 36.9 L555.6 36.6 Z" fill="#d0d0d0" stroke="#3a3a3a" stroke-width="0.4"/>
<rect x="565" y="28.2" width="12.1" height="11.7" fill="#7cacc4"/><rect x="565" y="28.2" width="12.1" height="4" fill="#94c0d6"/><path d="M568 30.8H574.1V32.4H573.3L573 31.8H571.8V37.2L572.8 37.5V38H569.3V37.5L570.3 37.2V31.8H569.1L568.8 32.4H568Z" fill="#26343f"/>
<path d="M586.6 33.4 C587 29.4 591.4 27.8 594.4 30.2" fill="none" stroke="#92b8dc" stroke-width="2.2"/><path d="M592.6 32.4L598 32.8L597.4 27.4Z" fill="#92b8dc"/>
<path d="M597.2 34.6 C596.8 38.6 592.4 40.2 589.4 37.8" fill="none" stroke="#5c8ab4" stroke-width="2.2"/><path d="M591.2 35.6L585.8 35.2L586.4 40.6Z" fill="#5c8ab4"/>
<path d="M604.8 31 H613.1 L610 34.4 L609.6 36.9 H608.2 L607.8 34.4 Z" fill="#fff"/>
</svg>
<svg class="abs" style="left:0;top:579px" width="420" height="22" viewBox="0 579 420 22">
<rect x="0" y="580" width="102" height="18" fill="#1c1c1c"/>
<text x="7.3" y="594" font-family="Liberation Sans, sans-serif" font-size="12" font-weight="bold" fill="#fff" textLength="19.2" lengthAdjust="spacingAndGlyphs">RSI</text>
<rect x="43" y="587.6" width="17" height="1.6" fill="#b4b4b4"/>
<text x="65" y="594" font-family="Liberation Sans, sans-serif" font-size="12" fill="#e4e4e4" textLength="20.3" lengthAdjust="spacingAndGlyphs">(14)</text>
<g transform="translate(90.6,584.2)"><path d="M2.2 2.4 L7.6 8" stroke="#b4d0f4" stroke-width="2.6" stroke-linecap="round"/><circle cx="2.8" cy="3" r="2.3" fill="#6c9ce0"/><circle cx="1.5" cy="1.6" r="1.2" fill="#1c1c1c"/><circle cx="7.2" cy="7.6" r="1.9" fill="#d0e0f8"/></g>
</svg>
<svg class="abs" style="left:0;top:760px" width="420" height="22" viewBox="0 760 420 22">
<rect x="0" y="761" width="391" height="18" fill="#1c1c1c"/>
<text x="7.3" y="775.2" font-family="Liberation Sans, sans-serif" font-size="12" font-weight="bold" fill="#fff" textLength="24.6" lengthAdjust="spacingAndGlyphs">PPO</text>
<text x="48.3" y="775.2" font-family="Liberation Sans, sans-serif" font-size="12" fill="#e4e4e4" textLength="148.3" lengthAdjust="spacingAndGlyphs">(12, 26, 9 - EMA, EMA, EMA)</text>
<g transform="translate(201.6,765.6)"><path d="M2.2 2.4 L7.6 8" stroke="#b4d0f4" stroke-width="2.6" stroke-linecap="round"/><circle cx="2.8" cy="3" r="2.3" fill="#6c9ce0"/><circle cx="1.5" cy="1.6" r="1.2" fill="#1c1c1c"/><circle cx="7.2" cy="7.6" r="1.9" fill="#d0e0f8"/></g>
<rect x="226" y="769" width="16.6" height="1.6" fill="#f59a0c"/>
<rect x="247.5" y="767.5" width="8" height="8" fill="#f2f6ff" stroke="#8ca4c8" stroke-width="1"/><path d="M249.2 771.4 L251 773.8 L254 769" fill="none" stroke="#1848c4" stroke-width="1.6"/>
<rect x="261" y="769" width="16.6" height="1.6" fill="#d4d4d4"/>
<text x="282.6" y="775.2" font-family="Liberation Sans, sans-serif" font-size="12" fill="#e4e4e4" textLength="15.2" lengthAdjust="spacingAndGlyphs">MA</text>
<rect x="303.9" y="767.5" width="8" height="8" fill="#f2f6ff" stroke="#8ca4c8" stroke-width="1"/><path d="M305.59999999999997 771.4 L307.4 773.8 L310.4 769" fill="none" stroke="#1848c4" stroke-width="1.6"/>
<rect x="317.4" y="769" width="16.4" height="1.6" fill="#4c4c4c"/>
<text x="338.7" y="775.2" font-family="Liberation Sans, sans-serif" font-size="12" fill="#e4e4e4" textLength="30.9" lengthAdjust="spacingAndGlyphs">OsMA</text>
<rect x="375.5" y="767.5" width="8" height="8" fill="#f2f6ff" stroke="#8ca4c8" stroke-width="1"/><path d="M377.2 771.4 L379 773.8 L382 769" fill="none" stroke="#1848c4" stroke-width="1.6"/>
</svg>
</body></html>
